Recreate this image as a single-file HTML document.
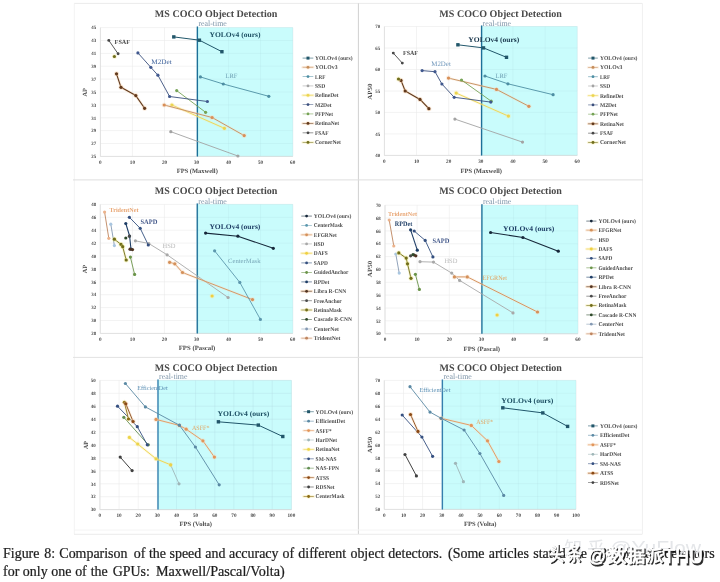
<!DOCTYPE html>
<html><head><meta charset="utf-8"><title>Figure 8</title>
<style>
html,body{margin:0;padding:0;background:#ffffff;}
body{width:720px;height:582px;overflow:hidden;font-family:"Liberation Serif",serif;}
svg{display:block;}
</style></head><body>
<svg width="720" height="582" viewBox="0 0 720 582">
<rect width="720" height="582" fill="#ffffff"/>
<g id="frames" fill="none" filter="url(#softf)">
<path d="M74 3.4H642.4" stroke="#ebebeb" stroke-width="1"/>
<path d="M74.3 3.4V534" stroke="#f3f3f3" stroke-width="1"/>
<path d="M642.4 3.4V534" stroke="#f0f0f0" stroke-width="1"/>
<path d="M358.4 3.4V534" stroke="#d0d0d0" stroke-width="1"/>
<path d="M73 179.9H643" stroke="#dedede" stroke-width="1"/>
<path d="M73 357.4H643" stroke="#e2e2e2" stroke-width="1"/>
<path d="M74 534.3H642.4" stroke="#ececec" stroke-width="1"/>
<path d="M74 530H642.4" stroke="#f4f4f4" stroke-width="1"/>
</g>
<defs><filter id="softf" x="0" y="0" width="720" height="582" filterUnits="userSpaceOnUse"><feGaussianBlur stdDeviation="0.3"/></filter></defs>
<defs><filter id="soft" x="0" y="0" width="100%" height="100%" filterUnits="userSpaceOnUse"><feGaussianBlur stdDeviation="0.38"/></filter></defs>
<g id="charts" filter="url(#soft)" text-rendering="geometricPrecision" font-family="Liberation Serif, serif">
<rect x="197.4" y="27.6" width="95.3" height="128.8" fill="#c9fcfc"/>
<path d="M100.4 27.6V156.4M132.4 27.6V156.4M164.5 27.6V156.4M196.6 27.6V156.4M228.6 27.6V156.4M260.6 27.6V156.4M292.7 27.6V156.4M100.4 156.4H292.7M100.4 143.5H292.7M100.4 130.6H292.7M100.4 117.8H292.7M100.4 104.9H292.7M100.4 92.0H292.7M100.4 79.1H292.7M100.4 66.2H292.7M100.4 53.4H292.7M100.4 40.5H292.7M100.4 27.6H292.7" stroke="#e9e9e9" stroke-width="0.6" fill="none" opacity="0.9"/>
<rect x="197.4" y="27.6" width="95.3" height="128.8" fill="#c9fcfc"/>
<path d="M228.6 27.6V156.4M260.6 27.6V156.4M292.7 27.6V156.4M197.4 156.4H292.7M197.4 143.5H292.7M197.4 130.6H292.7M197.4 117.8H292.7M197.4 104.9H292.7M197.4 92.0H292.7M197.4 79.1H292.7M197.4 66.2H292.7M197.4 53.4H292.7M197.4 40.5H292.7M197.4 27.6H292.7" stroke="#a9d3dc" stroke-width="0.6" fill="none" opacity="0.32"/>
<path d="M100.4 27.6V156.4H292.7" stroke="#d9d9d9" stroke-width="0.7" fill="none"/>
<path d="M197.4 26.6V156.4" stroke="#6fb6d2" stroke-width="1.9" opacity="0.4"/>
<path d="M197.4 26.6V156.4" stroke="#1f6f98" stroke-width="1.2"/>
<text x="100.4" y="164.0" font-size="5.2" fill="#4a4a4a" text-anchor="middle" font-weight="bold" >0</text>
<text x="132.4" y="164.0" font-size="5.2" fill="#4a4a4a" text-anchor="middle" font-weight="bold" >10</text>
<text x="164.5" y="164.0" font-size="5.2" fill="#4a4a4a" text-anchor="middle" font-weight="bold" >20</text>
<text x="196.6" y="164.0" font-size="5.2" fill="#4a4a4a" text-anchor="middle" font-weight="bold" >30</text>
<text x="228.6" y="164.0" font-size="5.2" fill="#4a4a4a" text-anchor="middle" font-weight="bold" >40</text>
<text x="260.6" y="164.0" font-size="5.2" fill="#4a4a4a" text-anchor="middle" font-weight="bold" >50</text>
<text x="292.7" y="164.0" font-size="5.2" fill="#4a4a4a" text-anchor="middle" font-weight="bold" >60</text>
<text x="96.2" y="158.1" font-size="4.9" fill="#4a4a4a" text-anchor="end" font-weight="bold" >25</text>
<text x="96.2" y="145.2" font-size="4.9" fill="#4a4a4a" text-anchor="end" font-weight="bold" >27</text>
<text x="96.2" y="132.3" font-size="4.9" fill="#4a4a4a" text-anchor="end" font-weight="bold" >29</text>
<text x="96.2" y="119.5" font-size="4.9" fill="#4a4a4a" text-anchor="end" font-weight="bold" >31</text>
<text x="96.2" y="106.6" font-size="4.9" fill="#4a4a4a" text-anchor="end" font-weight="bold" >33</text>
<text x="96.2" y="93.7" font-size="4.9" fill="#4a4a4a" text-anchor="end" font-weight="bold" >35</text>
<text x="96.2" y="80.8" font-size="4.9" fill="#4a4a4a" text-anchor="end" font-weight="bold" >37</text>
<text x="96.2" y="67.9" font-size="4.9" fill="#4a4a4a" text-anchor="end" font-weight="bold" >39</text>
<text x="96.2" y="55.1" font-size="4.9" fill="#4a4a4a" text-anchor="end" font-weight="bold" >41</text>
<text x="96.2" y="42.2" font-size="4.9" fill="#4a4a4a" text-anchor="end" font-weight="bold" >43</text>
<text x="96.2" y="29.3" font-size="4.9" fill="#4a4a4a" text-anchor="end" font-weight="bold" >45</text>
<text x="197.3" y="173.0" font-size="6.4" fill="#4c4c4c" text-anchor="middle" font-weight="bold" textLength="41.0" lengthAdjust="spacingAndGlyphs" >FPS (Maxwell)</text>
<text x="87.1" y="92.3" font-size="6.4" fill="#4c4c4c" text-anchor="middle" font-weight="bold" textLength="8.5" lengthAdjust="spacingAndGlyphs" transform="rotate(-90 87.1 92.3)">AP</text>
<text x="216.1" y="17.2" font-size="10.1" fill="#4a4a4a" text-anchor="middle" font-weight="bold" textLength="122.5" lengthAdjust="spacingAndGlyphs" >MS COCO Object Detection</text>
<text x="198.4" y="25.5" font-size="8.2" fill="#7d94a8" text-anchor="start" textLength="28.5" lengthAdjust="spacingAndGlyphs" >real-time</text>
<path d="M170.8 131.7L237.9 156.0" stroke="#a3a3a3" stroke-width="0.9" fill="none" stroke-linejoin="round"/>
<circle cx="170.8" cy="131.7" r="1.6" fill="#a3a3a3"/>
<circle cx="237.9" cy="156.0" r="1.6" fill="#a3a3a3"/>
<path d="M171.9 105.0L224.4 128.3" stroke="#fbe9a0" stroke-width="2.5" fill="none" opacity="0.32" stroke-linecap="round" stroke-linejoin="round"/>
<path d="M171.9 105.0L224.4 128.3" stroke="#ebd550" stroke-width="0.9" fill="none" stroke-linejoin="round"/>
<circle cx="171.9" cy="105.0" r="2.5" fill="#fbe9a0" opacity="0.42"/>
<circle cx="171.9" cy="105.0" r="1.6" fill="#ebd550"/>
<circle cx="224.4" cy="128.3" r="2.5" fill="#fbe9a0" opacity="0.42"/>
<circle cx="224.4" cy="128.3" r="1.6" fill="#ebd550"/>
<path d="M164.2 105.0L212.1 117.5L244.2 135.6" stroke="#f6d9bd" stroke-width="2.5" fill="none" opacity="0.32" stroke-linecap="round" stroke-linejoin="round"/>
<path d="M164.2 105.0L212.1 117.5L244.2 135.6" stroke="#c48c5a" stroke-width="0.9" fill="none" stroke-linejoin="round"/>
<circle cx="164.2" cy="105.0" r="2.5" fill="#f6d9bd" opacity="0.42"/>
<circle cx="164.2" cy="105.0" r="1.6" fill="#d88f58"/>
<circle cx="212.1" cy="117.5" r="2.5" fill="#f6d9bd" opacity="0.42"/>
<circle cx="212.1" cy="117.5" r="1.6" fill="#d88f58"/>
<circle cx="244.2" cy="135.6" r="2.5" fill="#f6d9bd" opacity="0.42"/>
<circle cx="244.2" cy="135.6" r="1.6" fill="#d88f58"/>
<path d="M176.7 90.6L205.6 112.3" stroke="#76a356" stroke-width="0.9" fill="none" stroke-linejoin="round"/>
<circle cx="176.7" cy="90.6" r="1.6" fill="#76a356"/>
<circle cx="205.6" cy="112.3" r="1.6" fill="#76a356"/>
<path d="M137.9 52.9L150.8 67.3L157.9 75.2L169.6 96.5L207.4 101.5" stroke="#3a4f7d" stroke-width="0.9" fill="none" stroke-linejoin="round"/>
<circle cx="137.9" cy="52.9" r="1.6" fill="#41598e"/>
<circle cx="150.8" cy="67.3" r="1.6" fill="#41598e"/>
<circle cx="157.9" cy="75.2" r="1.6" fill="#41598e"/>
<circle cx="169.6" cy="96.5" r="1.6" fill="#41598e"/>
<circle cx="207.4" cy="101.5" r="1.6" fill="#41598e"/>
<path d="M200.4 76.9L223.3 84.0L268.8 96.3" stroke="#4d8ea3" stroke-width="0.9" fill="none" stroke-linejoin="round"/>
<circle cx="200.4" cy="76.9" r="1.6" fill="#4d8ea3"/>
<circle cx="223.3" cy="84.0" r="1.6" fill="#4d8ea3"/>
<circle cx="268.8" cy="96.3" r="1.6" fill="#4d8ea3"/>
<path d="M116.5 73.8L121.0 87.3L135.8 95.6L144.6 108.3" stroke="#f3c9a0" stroke-width="2.7" fill="none" opacity="0.32" stroke-linecap="round" stroke-linejoin="round"/>
<path d="M116.5 73.8L121.0 87.3L135.8 95.6L144.6 108.3" stroke="#60391c" stroke-width="1.1" fill="none" stroke-linejoin="round"/>
<circle cx="116.5" cy="73.8" r="2.5" fill="#f3c9a0" opacity="0.42"/>
<circle cx="116.5" cy="73.8" r="1.6" fill="#60391c"/>
<circle cx="121.0" cy="87.3" r="2.5" fill="#f3c9a0" opacity="0.42"/>
<circle cx="121.0" cy="87.3" r="1.6" fill="#60391c"/>
<circle cx="135.8" cy="95.6" r="2.5" fill="#f3c9a0" opacity="0.42"/>
<circle cx="135.8" cy="95.6" r="1.6" fill="#60391c"/>
<circle cx="144.6" cy="108.3" r="2.5" fill="#f3c9a0" opacity="0.42"/>
<circle cx="144.6" cy="108.3" r="1.6" fill="#60391c"/>
<circle cx="114.4" cy="56.5" r="2.5" fill="#f3e6a0" opacity="0.42"/>
<circle cx="114.4" cy="56.5" r="1.6" fill="#6f6e1e"/>
<path d="M108.8 40.4L118.1 53.8" stroke="#474747" stroke-width="0.9" fill="none" stroke-linejoin="round"/>
<circle cx="108.8" cy="40.4" r="1.45" fill="#474747"/>
<circle cx="118.1" cy="53.8" r="1.45" fill="#474747"/>
<path d="M173.8 36.9L199.4 40.2L221.9 51.7" stroke="#21566a" stroke-width="1.0" fill="none" stroke-linejoin="round"/>
<rect x="172.1" y="35.2" width="3.4" height="3.4" fill="#21566a"/>
<rect x="197.7" y="38.5" width="3.4" height="3.4" fill="#21566a"/>
<rect x="220.2" y="50.0" width="3.4" height="3.4" fill="#21566a"/>
<text x="114.6" y="43.9" font-size="6.3" fill="#4a4a4a" text-anchor="start" font-weight="bold" textLength="15.5" lengthAdjust="spacingAndGlyphs" >FSAF</text>
<text x="151.3" y="63.8" font-size="6.8" fill="#41649c" text-anchor="start" textLength="20.5" lengthAdjust="spacingAndGlyphs" >M2Det</text>
<text x="225.5" y="78.2" font-size="6.5" fill="#6ea0b4" text-anchor="start" textLength="12.0" lengthAdjust="spacingAndGlyphs" >LRF</text>
<text x="209.5" y="36.6" font-size="7.3" fill="#1d4f63" text-anchor="start" font-weight="bold" textLength="51.0" lengthAdjust="spacingAndGlyphs" >YOLOv4 (ours)</text>
<path d="M302.6 58.1H313.3" stroke="#21566a" stroke-width="0.8" opacity="0.7"/>
<rect x="306.5" y="56.6" width="3" height="3" fill="#21566a"/>
<text x="315.0" y="60.0" font-size="5.9" fill="#4d4d4d" text-anchor="start" font-weight="bold" textLength="37.5" lengthAdjust="spacingAndGlyphs" >YOLOv4 (ours)</text>
<path d="M302.6 67.3H313.3" stroke="#f6d9bd" stroke-width="2.4" opacity="0.45" stroke-linecap="round"/>
<circle cx="308.0" cy="67.3" r="2.2" fill="#f6d9bd" opacity="0.45"/>
<path d="M302.6 67.3H313.3" stroke="#c48c5a" stroke-width="0.8" opacity="0.7"/>
<circle cx="308.0" cy="67.3" r="1.4" fill="#c48c5a"/>
<text x="315.0" y="69.2" font-size="5.9" fill="#4d4d4d" text-anchor="start" font-weight="bold" textLength="22.5" lengthAdjust="spacingAndGlyphs" >YOLOv3</text>
<path d="M302.6 76.6H313.3" stroke="#4d8ea3" stroke-width="0.8" opacity="0.7"/>
<circle cx="308.0" cy="76.6" r="1.4" fill="#4d8ea3"/>
<text x="315.0" y="78.5" font-size="5.9" fill="#4d4d4d" text-anchor="start" font-weight="bold" textLength="10.3" lengthAdjust="spacingAndGlyphs" >LRF</text>
<path d="M302.6 85.9H313.3" stroke="#a3a3a3" stroke-width="0.8" opacity="0.7"/>
<circle cx="308.0" cy="85.9" r="1.4" fill="#a3a3a3"/>
<text x="315.0" y="87.8" font-size="5.9" fill="#4d4d4d" text-anchor="start" font-weight="bold" textLength="10.3" lengthAdjust="spacingAndGlyphs" >SSD</text>
<path d="M302.6 95.3H313.3" stroke="#fbe9a0" stroke-width="2.4" opacity="0.45" stroke-linecap="round"/>
<circle cx="308.0" cy="95.3" r="2.2" fill="#fbe9a0" opacity="0.45"/>
<path d="M302.6 95.3H313.3" stroke="#ebd550" stroke-width="0.8" opacity="0.7"/>
<circle cx="308.0" cy="95.3" r="1.4" fill="#ebd550"/>
<text x="315.0" y="97.2" font-size="5.9" fill="#4d4d4d" text-anchor="start" font-weight="bold" textLength="23.5" lengthAdjust="spacingAndGlyphs" >RefineDet</text>
<path d="M302.6 104.6H313.3" stroke="#3a4f7d" stroke-width="0.8" opacity="0.7"/>
<circle cx="308.0" cy="104.6" r="1.4" fill="#3a4f7d"/>
<text x="315.0" y="106.5" font-size="5.9" fill="#4d4d4d" text-anchor="start" font-weight="bold" textLength="16.5" lengthAdjust="spacingAndGlyphs" >M2Det</text>
<path d="M302.6 113.9H313.3" stroke="#76a356" stroke-width="0.8" opacity="0.7"/>
<circle cx="308.0" cy="113.9" r="1.4" fill="#76a356"/>
<text x="315.0" y="115.8" font-size="5.9" fill="#4d4d4d" text-anchor="start" font-weight="bold" textLength="18.0" lengthAdjust="spacingAndGlyphs" >PFPNet</text>
<path d="M302.6 123.4H313.3" stroke="#f3c9a0" stroke-width="2.4" opacity="0.45" stroke-linecap="round"/>
<circle cx="308.0" cy="123.4" r="2.2" fill="#f3c9a0" opacity="0.45"/>
<path d="M302.6 123.4H313.3" stroke="#60391c" stroke-width="0.8" opacity="0.7"/>
<circle cx="308.0" cy="123.4" r="1.4" fill="#60391c"/>
<text x="315.0" y="125.3" font-size="5.9" fill="#4d4d4d" text-anchor="start" font-weight="bold" textLength="24.0" lengthAdjust="spacingAndGlyphs" >RetinaNet</text>
<path d="M302.6 132.8H313.3" stroke="#474747" stroke-width="0.8" opacity="0.7"/>
<circle cx="308.0" cy="132.8" r="1.4" fill="#474747"/>
<text x="315.0" y="134.7" font-size="5.9" fill="#4d4d4d" text-anchor="start" font-weight="bold" textLength="13.5" lengthAdjust="spacingAndGlyphs" >FSAF</text>
<path d="M302.6 142.4H313.3" stroke="#f3e6a0" stroke-width="2.4" opacity="0.45" stroke-linecap="round"/>
<circle cx="308.0" cy="142.4" r="2.2" fill="#f3e6a0" opacity="0.45"/>
<path d="M302.6 142.4H313.3" stroke="#6f6e1e" stroke-width="0.8" opacity="0.7"/>
<circle cx="308.0" cy="142.4" r="1.4" fill="#6f6e1e"/>
<text x="315.0" y="144.3" font-size="5.9" fill="#4d4d4d" text-anchor="start" font-weight="bold" textLength="26.0" lengthAdjust="spacingAndGlyphs" >CornerNet</text>
<rect x="481.6" y="26.5" width="95.6" height="128.9" fill="#c9fcfc"/>
<path d="M384.4 26.5V155.4M416.5 26.5V155.4M448.7 26.5V155.4M480.8 26.5V155.4M512.9 26.5V155.4M545.1 26.5V155.4M577.2 26.5V155.4M384.4 155.4H577.2M384.4 133.9H577.2M384.4 112.4H577.2M384.4 91.0H577.2M384.4 69.5H577.2M384.4 48.0H577.2M384.4 26.5H577.2" stroke="#e9e9e9" stroke-width="0.6" fill="none" opacity="0.9"/>
<rect x="481.6" y="26.5" width="95.6" height="128.9" fill="#c9fcfc"/>
<path d="M512.9 26.5V155.4M545.1 26.5V155.4M577.2 26.5V155.4M481.6 155.4H577.2M481.6 133.9H577.2M481.6 112.4H577.2M481.6 91.0H577.2M481.6 69.5H577.2M481.6 48.0H577.2M481.6 26.5H577.2" stroke="#a9d3dc" stroke-width="0.6" fill="none" opacity="0.32"/>
<path d="M384.4 26.5V155.4H577.2" stroke="#d9d9d9" stroke-width="0.7" fill="none"/>
<path d="M481.6 25.5V155.4" stroke="#6fb6d2" stroke-width="1.9" opacity="0.4"/>
<path d="M481.6 25.5V155.4" stroke="#1f6f98" stroke-width="1.2"/>
<text x="384.4" y="163.0" font-size="5.2" fill="#4a4a4a" text-anchor="middle" font-weight="bold" >0</text>
<text x="416.5" y="163.0" font-size="5.2" fill="#4a4a4a" text-anchor="middle" font-weight="bold" >10</text>
<text x="448.7" y="163.0" font-size="5.2" fill="#4a4a4a" text-anchor="middle" font-weight="bold" >20</text>
<text x="480.8" y="163.0" font-size="5.2" fill="#4a4a4a" text-anchor="middle" font-weight="bold" >30</text>
<text x="512.9" y="163.0" font-size="5.2" fill="#4a4a4a" text-anchor="middle" font-weight="bold" >40</text>
<text x="545.1" y="163.0" font-size="5.2" fill="#4a4a4a" text-anchor="middle" font-weight="bold" >50</text>
<text x="577.2" y="163.0" font-size="5.2" fill="#4a4a4a" text-anchor="middle" font-weight="bold" >60</text>
<text x="380.2" y="157.1" font-size="4.9" fill="#4a4a4a" text-anchor="end" font-weight="bold" >40</text>
<text x="380.2" y="135.6" font-size="4.9" fill="#4a4a4a" text-anchor="end" font-weight="bold" >45</text>
<text x="380.2" y="114.1" font-size="4.9" fill="#4a4a4a" text-anchor="end" font-weight="bold" >50</text>
<text x="380.2" y="92.7" font-size="4.9" fill="#4a4a4a" text-anchor="end" font-weight="bold" >55</text>
<text x="380.2" y="71.2" font-size="4.9" fill="#4a4a4a" text-anchor="end" font-weight="bold" >60</text>
<text x="380.2" y="49.7" font-size="4.9" fill="#4a4a4a" text-anchor="end" font-weight="bold" >65</text>
<text x="380.2" y="28.2" font-size="4.9" fill="#4a4a4a" text-anchor="end" font-weight="bold" >70</text>
<text x="481.2" y="173.0" font-size="6.4" fill="#4c4c4c" text-anchor="middle" font-weight="bold" textLength="41.5" lengthAdjust="spacingAndGlyphs" >FPS (Maxwell)</text>
<text x="371.6" y="91.6" font-size="6.4" fill="#4c4c4c" text-anchor="middle" font-weight="bold" textLength="16.3" lengthAdjust="spacingAndGlyphs" transform="rotate(-90 371.6 91.6)">AP50</text>
<text x="500.6" y="17.2" font-size="10.1" fill="#4a4a4a" text-anchor="middle" font-weight="bold" textLength="122.5" lengthAdjust="spacingAndGlyphs" >MS COCO Object Detection</text>
<text x="482.6" y="25.5" font-size="8.2" fill="#7d94a8" text-anchor="start" textLength="28.5" lengthAdjust="spacingAndGlyphs" >real-time</text>
<path d="M454.9 119.1L522.5 142.1" stroke="#a3a3a3" stroke-width="0.9" fill="none" stroke-linejoin="round"/>
<circle cx="454.9" cy="119.1" r="1.6" fill="#a3a3a3"/>
<circle cx="522.5" cy="142.1" r="1.6" fill="#a3a3a3"/>
<path d="M456.2 93.1L508.4 116.1" stroke="#fbe9a0" stroke-width="2.5" fill="none" opacity="0.32" stroke-linecap="round" stroke-linejoin="round"/>
<path d="M456.2 93.1L508.4 116.1" stroke="#ebd550" stroke-width="0.9" fill="none" stroke-linejoin="round"/>
<circle cx="456.2" cy="93.1" r="2.5" fill="#fbe9a0" opacity="0.42"/>
<circle cx="456.2" cy="93.1" r="1.6" fill="#ebd550"/>
<circle cx="508.4" cy="116.1" r="2.5" fill="#fbe9a0" opacity="0.42"/>
<circle cx="508.4" cy="116.1" r="1.6" fill="#ebd550"/>
<path d="M448.5 78.1L496.5 89.4L528.9 106.3" stroke="#f6d9bd" stroke-width="2.5" fill="none" opacity="0.32" stroke-linecap="round" stroke-linejoin="round"/>
<path d="M448.5 78.1L496.5 89.4L528.9 106.3" stroke="#c48c5a" stroke-width="0.9" fill="none" stroke-linejoin="round"/>
<circle cx="448.5" cy="78.1" r="2.5" fill="#f6d9bd" opacity="0.42"/>
<circle cx="448.5" cy="78.1" r="1.6" fill="#d88f58"/>
<circle cx="496.5" cy="89.4" r="2.5" fill="#f6d9bd" opacity="0.42"/>
<circle cx="496.5" cy="89.4" r="1.6" fill="#d88f58"/>
<circle cx="528.9" cy="106.3" r="2.5" fill="#f6d9bd" opacity="0.42"/>
<circle cx="528.9" cy="106.3" r="1.6" fill="#d88f58"/>
<path d="M461.5 80.0L491.2 101.2" stroke="#76a356" stroke-width="0.9" fill="none" stroke-linejoin="round"/>
<circle cx="461.5" cy="80.0" r="1.6" fill="#76a356"/>
<circle cx="491.2" cy="101.2" r="1.6" fill="#76a356"/>
<path d="M422.1 70.6L435.0 71.7L441.9 84.0L454.2 97.3L490.8 102.1" stroke="#3a4f7d" stroke-width="0.9" fill="none" stroke-linejoin="round"/>
<circle cx="422.1" cy="70.6" r="1.6" fill="#41598e"/>
<circle cx="435.0" cy="71.7" r="1.6" fill="#41598e"/>
<circle cx="441.9" cy="84.0" r="1.6" fill="#41598e"/>
<circle cx="454.2" cy="97.3" r="1.6" fill="#41598e"/>
<circle cx="490.8" cy="102.1" r="1.6" fill="#41598e"/>
<path d="M485.0 76.0L507.9 83.8L553.1 94.7" stroke="#4d8ea3" stroke-width="0.9" fill="none" stroke-linejoin="round"/>
<circle cx="485.0" cy="76.0" r="1.6" fill="#4d8ea3"/>
<circle cx="507.9" cy="83.8" r="1.6" fill="#4d8ea3"/>
<circle cx="553.1" cy="94.7" r="1.6" fill="#4d8ea3"/>
<path d="M401.0 80.4L405.2 91.0L420.0 99.4L428.9 108.7" stroke="#f3c9a0" stroke-width="2.7" fill="none" opacity="0.32" stroke-linecap="round" stroke-linejoin="round"/>
<path d="M401.0 80.4L405.2 91.0L420.0 99.4L428.9 108.7" stroke="#60391c" stroke-width="1.1" fill="none" stroke-linejoin="round"/>
<circle cx="401.0" cy="80.4" r="2.5" fill="#f3c9a0" opacity="0.42"/>
<circle cx="401.0" cy="80.4" r="1.6" fill="#60391c"/>
<circle cx="405.2" cy="91.0" r="2.5" fill="#f3c9a0" opacity="0.42"/>
<circle cx="405.2" cy="91.0" r="1.6" fill="#60391c"/>
<circle cx="420.0" cy="99.4" r="2.5" fill="#f3c9a0" opacity="0.42"/>
<circle cx="420.0" cy="99.4" r="1.6" fill="#60391c"/>
<circle cx="428.9" cy="108.7" r="2.5" fill="#f3c9a0" opacity="0.42"/>
<circle cx="428.9" cy="108.7" r="1.6" fill="#60391c"/>
<circle cx="398.5" cy="79.0" r="2.5" fill="#f3e6a0" opacity="0.42"/>
<circle cx="398.5" cy="79.0" r="1.6" fill="#6f6e1e"/>
<path d="M393.3 53.1L402.3 63.1" stroke="#474747" stroke-width="0.9" fill="none" stroke-linejoin="round"/>
<circle cx="393.3" cy="53.1" r="1.45" fill="#474747"/>
<circle cx="402.3" cy="63.1" r="1.45" fill="#474747"/>
<path d="M457.9 44.8L483.5 47.9L506.5 57.3" stroke="#21566a" stroke-width="1.0" fill="none" stroke-linejoin="round"/>
<rect x="456.2" y="43.1" width="3.4" height="3.4" fill="#21566a"/>
<rect x="481.8" y="46.2" width="3.4" height="3.4" fill="#21566a"/>
<rect x="504.8" y="55.6" width="3.4" height="3.4" fill="#21566a"/>
<text x="403.0" y="54.8" font-size="6.3" fill="#4a4a4a" text-anchor="start" font-weight="bold" textLength="15.0" lengthAdjust="spacingAndGlyphs" >FSAF</text>
<text x="431.3" y="66.4" font-size="6.8" fill="#6f96ba" text-anchor="start" textLength="19.5" lengthAdjust="spacingAndGlyphs" >M2Det</text>
<text x="495.5" y="77.5" font-size="6.5" fill="#6ea0b4" text-anchor="start" textLength="12.0" lengthAdjust="spacingAndGlyphs" >LRF</text>
<text x="468.3" y="42.2" font-size="7.3" fill="#17344a" text-anchor="start" font-weight="bold" textLength="51.0" lengthAdjust="spacingAndGlyphs" >YOLOv4 (ours)</text>
<path d="M588.1 58.1H597.8" stroke="#21566a" stroke-width="0.8" opacity="0.7"/>
<rect x="591.5" y="56.6" width="3" height="3" fill="#21566a"/>
<text x="599.9" y="60.0" font-size="5.9" fill="#4d4d4d" text-anchor="start" font-weight="bold" textLength="37.5" lengthAdjust="spacingAndGlyphs" >YOLOv4 (ours)</text>
<path d="M588.1 67.4H597.8" stroke="#f6d9bd" stroke-width="2.4" opacity="0.45" stroke-linecap="round"/>
<circle cx="593.0" cy="67.4" r="2.2" fill="#f6d9bd" opacity="0.45"/>
<path d="M588.1 67.4H597.8" stroke="#c48c5a" stroke-width="0.8" opacity="0.7"/>
<circle cx="593.0" cy="67.4" r="1.4" fill="#c48c5a"/>
<text x="599.9" y="69.3" font-size="5.9" fill="#4d4d4d" text-anchor="start" font-weight="bold" textLength="22.5" lengthAdjust="spacingAndGlyphs" >YOLOv3</text>
<path d="M588.1 76.7H597.8" stroke="#4d8ea3" stroke-width="0.8" opacity="0.7"/>
<circle cx="593.0" cy="76.7" r="1.4" fill="#4d8ea3"/>
<text x="599.9" y="78.6" font-size="5.9" fill="#4d4d4d" text-anchor="start" font-weight="bold" textLength="10.3" lengthAdjust="spacingAndGlyphs" >LRF</text>
<path d="M588.1 86.0H597.8" stroke="#a3a3a3" stroke-width="0.8" opacity="0.7"/>
<circle cx="593.0" cy="86.0" r="1.4" fill="#a3a3a3"/>
<text x="599.9" y="87.9" font-size="5.9" fill="#4d4d4d" text-anchor="start" font-weight="bold" textLength="10.3" lengthAdjust="spacingAndGlyphs" >SSD</text>
<path d="M588.1 95.6H597.8" stroke="#fbe9a0" stroke-width="2.4" opacity="0.45" stroke-linecap="round"/>
<circle cx="593.0" cy="95.6" r="2.2" fill="#fbe9a0" opacity="0.45"/>
<path d="M588.1 95.6H597.8" stroke="#ebd550" stroke-width="0.8" opacity="0.7"/>
<circle cx="593.0" cy="95.6" r="1.4" fill="#ebd550"/>
<text x="599.9" y="97.5" font-size="5.9" fill="#4d4d4d" text-anchor="start" font-weight="bold" textLength="23.5" lengthAdjust="spacingAndGlyphs" >RefineDet</text>
<path d="M588.1 104.9H597.8" stroke="#3a4f7d" stroke-width="0.8" opacity="0.7"/>
<circle cx="593.0" cy="104.9" r="1.4" fill="#3a4f7d"/>
<text x="599.9" y="106.8" font-size="5.9" fill="#4d4d4d" text-anchor="start" font-weight="bold" textLength="16.5" lengthAdjust="spacingAndGlyphs" >M2Det</text>
<path d="M588.1 114.2H597.8" stroke="#76a356" stroke-width="0.8" opacity="0.7"/>
<circle cx="593.0" cy="114.2" r="1.4" fill="#76a356"/>
<text x="599.9" y="116.1" font-size="5.9" fill="#4d4d4d" text-anchor="start" font-weight="bold" textLength="18.0" lengthAdjust="spacingAndGlyphs" >PFPNet</text>
<path d="M588.1 123.8H597.8" stroke="#f3c9a0" stroke-width="2.4" opacity="0.45" stroke-linecap="round"/>
<circle cx="593.0" cy="123.8" r="2.2" fill="#f3c9a0" opacity="0.45"/>
<path d="M588.1 123.8H597.8" stroke="#60391c" stroke-width="0.8" opacity="0.7"/>
<circle cx="593.0" cy="123.8" r="1.4" fill="#60391c"/>
<text x="599.9" y="125.7" font-size="5.9" fill="#4d4d4d" text-anchor="start" font-weight="bold" textLength="24.0" lengthAdjust="spacingAndGlyphs" >RetinaNet</text>
<path d="M588.1 133.2H597.8" stroke="#474747" stroke-width="0.8" opacity="0.7"/>
<circle cx="593.0" cy="133.2" r="1.4" fill="#474747"/>
<text x="599.9" y="135.1" font-size="5.9" fill="#4d4d4d" text-anchor="start" font-weight="bold" textLength="13.5" lengthAdjust="spacingAndGlyphs" >FSAF</text>
<path d="M588.1 142.5H597.8" stroke="#f3e6a0" stroke-width="2.4" opacity="0.45" stroke-linecap="round"/>
<circle cx="593.0" cy="142.5" r="2.2" fill="#f3e6a0" opacity="0.45"/>
<path d="M588.1 142.5H597.8" stroke="#6f6e1e" stroke-width="0.8" opacity="0.7"/>
<circle cx="593.0" cy="142.5" r="1.4" fill="#6f6e1e"/>
<text x="599.9" y="144.4" font-size="5.9" fill="#4d4d4d" text-anchor="start" font-weight="bold" textLength="26.0" lengthAdjust="spacingAndGlyphs" >CornerNet</text>
<rect x="197.3" y="204.4" width="95.4" height="129.0" fill="#c9fcfc"/>
<path d="M100.3 204.4V333.4M132.4 204.4V333.4M164.4 204.4V333.4M196.5 204.4V333.4M228.6 204.4V333.4M260.6 204.4V333.4M292.7 204.4V333.4M100.3 333.4H292.7M100.3 320.5H292.7M100.3 307.6H292.7M100.3 294.7H292.7M100.3 281.8H292.7M100.3 268.9H292.7M100.3 256.0H292.7M100.3 243.1H292.7M100.3 230.2H292.7M100.3 217.3H292.7M100.3 204.4H292.7" stroke="#e9e9e9" stroke-width="0.6" fill="none" opacity="0.9"/>
<rect x="197.3" y="204.4" width="95.4" height="129.0" fill="#c9fcfc"/>
<path d="M228.6 204.4V333.4M260.6 204.4V333.4M292.7 204.4V333.4M197.3 333.4H292.7M197.3 320.5H292.7M197.3 307.6H292.7M197.3 294.7H292.7M197.3 281.8H292.7M197.3 268.9H292.7M197.3 256.0H292.7M197.3 243.1H292.7M197.3 230.2H292.7M197.3 217.3H292.7M197.3 204.4H292.7" stroke="#a9d3dc" stroke-width="0.6" fill="none" opacity="0.32"/>
<path d="M100.3 204.4V333.4H292.7" stroke="#d9d9d9" stroke-width="0.7" fill="none"/>
<path d="M197.3 203.4V333.4" stroke="#6fb6d2" stroke-width="1.9" opacity="0.4"/>
<path d="M197.3 203.4V333.4" stroke="#1f6f98" stroke-width="1.2"/>
<text x="100.3" y="341.0" font-size="5.2" fill="#4a4a4a" text-anchor="middle" font-weight="bold" >0</text>
<text x="132.4" y="341.0" font-size="5.2" fill="#4a4a4a" text-anchor="middle" font-weight="bold" >10</text>
<text x="164.4" y="341.0" font-size="5.2" fill="#4a4a4a" text-anchor="middle" font-weight="bold" >20</text>
<text x="196.5" y="341.0" font-size="5.2" fill="#4a4a4a" text-anchor="middle" font-weight="bold" >30</text>
<text x="228.6" y="341.0" font-size="5.2" fill="#4a4a4a" text-anchor="middle" font-weight="bold" >40</text>
<text x="260.6" y="341.0" font-size="5.2" fill="#4a4a4a" text-anchor="middle" font-weight="bold" >50</text>
<text x="292.7" y="341.0" font-size="5.2" fill="#4a4a4a" text-anchor="middle" font-weight="bold" >60</text>
<text x="96.1" y="335.1" font-size="4.9" fill="#4a4a4a" text-anchor="end" font-weight="bold" >28</text>
<text x="96.1" y="322.2" font-size="4.9" fill="#4a4a4a" text-anchor="end" font-weight="bold" >30</text>
<text x="96.1" y="309.3" font-size="4.9" fill="#4a4a4a" text-anchor="end" font-weight="bold" >32</text>
<text x="96.1" y="296.4" font-size="4.9" fill="#4a4a4a" text-anchor="end" font-weight="bold" >34</text>
<text x="96.1" y="283.5" font-size="4.9" fill="#4a4a4a" text-anchor="end" font-weight="bold" >36</text>
<text x="96.1" y="270.6" font-size="4.9" fill="#4a4a4a" text-anchor="end" font-weight="bold" >38</text>
<text x="96.1" y="257.7" font-size="4.9" fill="#4a4a4a" text-anchor="end" font-weight="bold" >40</text>
<text x="96.1" y="244.8" font-size="4.9" fill="#4a4a4a" text-anchor="end" font-weight="bold" >42</text>
<text x="96.1" y="231.9" font-size="4.9" fill="#4a4a4a" text-anchor="end" font-weight="bold" >44</text>
<text x="96.1" y="219.0" font-size="4.9" fill="#4a4a4a" text-anchor="end" font-weight="bold" >46</text>
<text x="96.1" y="206.1" font-size="4.9" fill="#4a4a4a" text-anchor="end" font-weight="bold" >48</text>
<text x="197.0" y="350.4" font-size="6.4" fill="#4c4c4c" text-anchor="middle" font-weight="bold" textLength="36.5" lengthAdjust="spacingAndGlyphs" >FPS (Pascal)</text>
<text x="87.1" y="269.0" font-size="6.4" fill="#4c4c4c" text-anchor="middle" font-weight="bold" textLength="8.5" lengthAdjust="spacingAndGlyphs" transform="rotate(-90 87.1 269.0)">AP</text>
<text x="216.1" y="194.3" font-size="10.1" fill="#4a4a4a" text-anchor="middle" font-weight="bold" textLength="122.5" lengthAdjust="spacingAndGlyphs" >MS COCO Object Detection</text>
<text x="198.3" y="204.0" font-size="8.2" fill="#7d94a8" text-anchor="start" textLength="28.5" lengthAdjust="spacingAndGlyphs" >real-time</text>
<path d="M135.4 240.8L148.8 243.5L167.1 254.8L228.1 297.5" stroke="#a8a8a8" stroke-width="0.9" fill="none" stroke-linejoin="round"/>
<circle cx="135.4" cy="240.8" r="1.6" fill="#a8a8a8"/>
<circle cx="148.8" cy="243.5" r="1.6" fill="#a8a8a8"/>
<circle cx="167.1" cy="254.8" r="1.6" fill="#a8a8a8"/>
<circle cx="228.1" cy="297.5" r="1.6" fill="#a8a8a8"/>
<path d="M169.6 262.3L174.8 263.8L182.5 272.5L252.5 299.6" stroke="#f6d9bd" stroke-width="2.5" fill="none" opacity="0.32" stroke-linecap="round" stroke-linejoin="round"/>
<path d="M169.6 262.3L174.8 263.8L182.5 272.5L252.5 299.6" stroke="#d4905a" stroke-width="0.9" fill="none" stroke-linejoin="round"/>
<circle cx="169.6" cy="262.3" r="2.5" fill="#f6d9bd" opacity="0.42"/>
<circle cx="169.6" cy="262.3" r="1.6" fill="#d4905a"/>
<circle cx="174.8" cy="263.8" r="2.5" fill="#f6d9bd" opacity="0.42"/>
<circle cx="174.8" cy="263.8" r="1.6" fill="#d4905a"/>
<circle cx="182.5" cy="272.5" r="2.5" fill="#f6d9bd" opacity="0.42"/>
<circle cx="182.5" cy="272.5" r="1.6" fill="#d4905a"/>
<circle cx="252.5" cy="299.6" r="2.5" fill="#f6d9bd" opacity="0.42"/>
<circle cx="252.5" cy="299.6" r="1.6" fill="#d4905a"/>
<circle cx="212.1" cy="296.0" r="2.5" fill="#fbe9a0" opacity="0.42"/>
<circle cx="212.1" cy="296.0" r="1.6" fill="#efd040"/>
<path d="M214.6 250.8L239.8 282.4L260.4 319.4" stroke="#5b97ad" stroke-width="0.9" fill="none" stroke-linejoin="round"/>
<circle cx="214.6" cy="250.8" r="1.6" fill="#5b97ad"/>
<circle cx="239.8" cy="282.4" r="1.6" fill="#5b97ad"/>
<circle cx="260.4" cy="319.4" r="1.6" fill="#5b97ad"/>
<path d="M104.6 212.1L108.8 238.3" stroke="#bd845e" stroke-width="0.9" fill="none" stroke-linejoin="round"/>
<circle cx="104.6" cy="212.1" r="1.6" fill="#ecb38c"/>
<circle cx="108.8" cy="238.3" r="1.6" fill="#ecb38c"/>
<path d="M110.8 224.2L114.4 245.6" stroke="#8499b3" stroke-width="0.9" fill="none" stroke-linejoin="round"/>
<circle cx="110.8" cy="224.2" r="1.6" fill="#a9c6e0"/>
<circle cx="114.4" cy="245.6" r="1.6" fill="#a9c6e0"/>
<path d="M114.4 239.2L121.0 244.4L122.7 246.7L126.2 260.0" stroke="#ece680" stroke-width="2.5" fill="none" opacity="0.32" stroke-linecap="round" stroke-linejoin="round"/>
<path d="M114.4 239.2L121.0 244.4L122.7 246.7L126.2 260.0" stroke="#6f6c1c" stroke-width="0.9" fill="none" stroke-linejoin="round"/>
<circle cx="114.4" cy="239.2" r="2.5" fill="#ece680" opacity="0.42"/>
<circle cx="114.4" cy="239.2" r="1.6" fill="#6f6c1c"/>
<circle cx="121.0" cy="244.4" r="2.5" fill="#ece680" opacity="0.42"/>
<circle cx="121.0" cy="244.4" r="1.6" fill="#6f6c1c"/>
<circle cx="122.7" cy="246.7" r="2.5" fill="#ece680" opacity="0.42"/>
<circle cx="122.7" cy="246.7" r="1.6" fill="#6f6c1c"/>
<circle cx="126.2" cy="260.0" r="2.5" fill="#ece680" opacity="0.42"/>
<circle cx="126.2" cy="260.0" r="1.6" fill="#6f6c1c"/>
<path d="M130.4 257.1L134.6 274.4" stroke="#6b9448" stroke-width="0.9" fill="none" stroke-linejoin="round"/>
<circle cx="130.4" cy="257.1" r="1.6" fill="#6b9448"/>
<circle cx="134.6" cy="274.4" r="1.6" fill="#6b9448"/>
<path d="M129.4 217.3L140.2 228.3L148.3 245.0" stroke="#34507f" stroke-width="0.9" fill="none" stroke-linejoin="round"/>
<circle cx="129.4" cy="217.3" r="1.6" fill="#34507f"/>
<circle cx="140.2" cy="228.3" r="1.6" fill="#34507f"/>
<circle cx="148.3" cy="245.0" r="1.6" fill="#34507f"/>
<path d="M125.8 223.5L129.6 236.0L131.0 249.2" stroke="#1f3e66" stroke-width="1.1" fill="none" stroke-linejoin="round"/>
<circle cx="125.8" cy="223.5" r="1.6" fill="#1f3e66"/>
<circle cx="129.6" cy="236.0" r="1.6" fill="#1f3e66"/>
<circle cx="131.0" cy="249.2" r="1.6" fill="#1f3e66"/>
<path d="M130.0 249.2L132.5 249.6" stroke="#4f3220" stroke-width="0.9" fill="none" stroke-linejoin="round"/>
<circle cx="130.0" cy="249.2" r="1.6" fill="#4f3220"/>
<circle cx="132.5" cy="249.6" r="1.6" fill="#4f3220"/>
<circle cx="125.8" cy="238.0" r="1.6" fill="#2f4a2a"/>
<circle cx="129.4" cy="236.2" r="1.6" fill="#4a4a4a"/>
<path d="M205.6 233.1L237.9 236.2L273.3 248.3" stroke="#17283a" stroke-width="1.1" fill="none" stroke-linejoin="round"/>
<circle cx="205.6" cy="233.1" r="1.6" fill="#17283a"/>
<circle cx="237.9" cy="236.2" r="1.6" fill="#17283a"/>
<circle cx="273.3" cy="248.3" r="1.6" fill="#17283a"/>
<text x="109.5" y="212.0" font-size="6.3" fill="#e9a877" text-anchor="start" font-weight="bold" textLength="29.0" lengthAdjust="spacingAndGlyphs" >TridentNet</text>
<text x="140.5" y="223.5" font-size="6.8" fill="#44598a" text-anchor="start" font-weight="bold" textLength="17.0" lengthAdjust="spacingAndGlyphs" >SAPD</text>
<text x="162.5" y="247.5" font-size="6.5" fill="#b9b9b9" text-anchor="start" textLength="13.0" lengthAdjust="spacingAndGlyphs" >HSD</text>
<text x="228.0" y="262.8" font-size="6.5" fill="#78a7b8" text-anchor="start" textLength="32.5" lengthAdjust="spacingAndGlyphs" >CenterMask</text>
<text x="209.4" y="229.0" font-size="7.3" fill="#1f3f66" text-anchor="start" font-weight="bold" textLength="51.0" lengthAdjust="spacingAndGlyphs" >YOLOv4 (ours)</text>
<path d="M301.3 216.1H311.9" stroke="#17283a" stroke-width="0.8" opacity="0.7"/>
<circle cx="306.6" cy="216.1" r="1.4" fill="#17283a"/>
<text x="313.8" y="218.0" font-size="5.9" fill="#4d4d4d" text-anchor="start" font-weight="bold" textLength="37.5" lengthAdjust="spacingAndGlyphs" >YOLOv4 (ours)</text>
<path d="M301.3 225.4H311.9" stroke="#5b97ad" stroke-width="0.8" opacity="0.7"/>
<circle cx="306.6" cy="225.4" r="1.4" fill="#5b97ad"/>
<text x="313.8" y="227.3" font-size="5.9" fill="#4d4d4d" text-anchor="start" font-weight="bold" textLength="29.0" lengthAdjust="spacingAndGlyphs" >CenterMask</text>
<path d="M301.3 234.8H311.9" stroke="#f6d9bd" stroke-width="2.4" opacity="0.45" stroke-linecap="round"/>
<circle cx="306.6" cy="234.8" r="2.2" fill="#f6d9bd" opacity="0.45"/>
<path d="M301.3 234.8H311.9" stroke="#d4905a" stroke-width="0.8" opacity="0.7"/>
<circle cx="306.6" cy="234.8" r="1.4" fill="#d4905a"/>
<text x="313.8" y="236.7" font-size="5.9" fill="#4d4d4d" text-anchor="start" font-weight="bold" textLength="23.0" lengthAdjust="spacingAndGlyphs" >EFGRNet</text>
<path d="M301.3 243.9H311.9" stroke="#a8a8a8" stroke-width="0.8" opacity="0.7"/>
<circle cx="306.6" cy="243.9" r="1.4" fill="#a8a8a8"/>
<text x="313.8" y="245.8" font-size="5.9" fill="#4d4d4d" text-anchor="start" font-weight="bold" textLength="10.5" lengthAdjust="spacingAndGlyphs" >HSD</text>
<path d="M301.3 253.3H311.9" stroke="#fbe9a0" stroke-width="2.4" opacity="0.45" stroke-linecap="round"/>
<circle cx="306.6" cy="253.3" r="2.2" fill="#fbe9a0" opacity="0.45"/>
<path d="M301.3 253.3H311.9" stroke="#efd040" stroke-width="0.8" opacity="0.7"/>
<circle cx="306.6" cy="253.3" r="1.4" fill="#efd040"/>
<text x="313.8" y="255.2" font-size="5.9" fill="#4d4d4d" text-anchor="start" font-weight="bold" textLength="14.0" lengthAdjust="spacingAndGlyphs" >DAFS</text>
<path d="M301.3 262.9H311.9" stroke="#34507f" stroke-width="0.8" opacity="0.7"/>
<circle cx="306.6" cy="262.9" r="1.4" fill="#34507f"/>
<text x="313.8" y="264.8" font-size="5.9" fill="#4d4d4d" text-anchor="start" font-weight="bold" textLength="14.0" lengthAdjust="spacingAndGlyphs" >SAPD</text>
<path d="M301.3 272.5H311.9" stroke="#6b9448" stroke-width="0.8" opacity="0.7"/>
<circle cx="306.6" cy="272.5" r="1.4" fill="#6b9448"/>
<text x="313.8" y="274.4" font-size="5.9" fill="#4d4d4d" text-anchor="start" font-weight="bold" textLength="34.5" lengthAdjust="spacingAndGlyphs" >GuidedAnchor</text>
<path d="M301.3 281.9H311.9" stroke="#1f3e66" stroke-width="0.8" opacity="0.7"/>
<circle cx="306.6" cy="281.9" r="1.4" fill="#1f3e66"/>
<text x="313.8" y="283.8" font-size="5.9" fill="#4d4d4d" text-anchor="start" font-weight="bold" textLength="15.5" lengthAdjust="spacingAndGlyphs" >RPDet</text>
<path d="M301.3 291.3H311.9" stroke="#f3c9a0" stroke-width="2.4" opacity="0.45" stroke-linecap="round"/>
<circle cx="306.6" cy="291.3" r="2.2" fill="#f3c9a0" opacity="0.45"/>
<path d="M301.3 291.3H311.9" stroke="#4f3220" stroke-width="0.8" opacity="0.7"/>
<circle cx="306.6" cy="291.3" r="1.4" fill="#4f3220"/>
<text x="313.8" y="293.2" font-size="5.9" fill="#4d4d4d" text-anchor="start" font-weight="bold" textLength="32.5" lengthAdjust="spacingAndGlyphs" >Libra R-CNN</text>
<path d="M301.3 300.7H311.9" stroke="#4a4a4a" stroke-width="0.8" opacity="0.7"/>
<circle cx="306.6" cy="300.7" r="1.4" fill="#4a4a4a"/>
<text x="313.8" y="302.6" font-size="5.9" fill="#4d4d4d" text-anchor="start" font-weight="bold" textLength="28.0" lengthAdjust="spacingAndGlyphs" >FreeAnchor</text>
<path d="M301.3 310.0H311.9" stroke="#f3e6a0" stroke-width="2.4" opacity="0.45" stroke-linecap="round"/>
<circle cx="306.6" cy="310.0" r="2.2" fill="#f3e6a0" opacity="0.45"/>
<path d="M301.3 310.0H311.9" stroke="#6f6c1c" stroke-width="0.8" opacity="0.7"/>
<circle cx="306.6" cy="310.0" r="1.4" fill="#6f6c1c"/>
<text x="313.8" y="311.9" font-size="5.9" fill="#4d4d4d" text-anchor="start" font-weight="bold" textLength="28.0" lengthAdjust="spacingAndGlyphs" >RetinaMask</text>
<path d="M301.3 319.4H311.9" stroke="#2f4a2a" stroke-width="0.8" opacity="0.7"/>
<circle cx="306.6" cy="319.4" r="1.4" fill="#2f4a2a"/>
<text x="313.8" y="321.3" font-size="5.9" fill="#4d4d4d" text-anchor="start" font-weight="bold" textLength="38.0" lengthAdjust="spacingAndGlyphs" >Cascade R-CNN</text>
<path d="M301.3 329.0H311.9" stroke="#8499b3" stroke-width="0.8" opacity="0.7"/>
<circle cx="306.6" cy="329.0" r="1.4" fill="#8499b3"/>
<text x="313.8" y="330.9" font-size="5.9" fill="#4d4d4d" text-anchor="start" font-weight="bold" textLength="25.0" lengthAdjust="spacingAndGlyphs" >CenterNet</text>
<path d="M301.3 338.2H311.9" stroke="#fae3d0" stroke-width="2.4" opacity="0.45" stroke-linecap="round"/>
<circle cx="306.6" cy="338.2" r="2.2" fill="#fae3d0" opacity="0.45"/>
<path d="M301.3 338.2H311.9" stroke="#bd845e" stroke-width="0.8" opacity="0.7"/>
<circle cx="306.6" cy="338.2" r="1.4" fill="#bd845e"/>
<text x="313.8" y="340.1" font-size="5.9" fill="#4d4d4d" text-anchor="start" font-weight="bold" textLength="26.5" lengthAdjust="spacingAndGlyphs" >TridentNet</text>
<rect x="481.9" y="205.2" width="96.0" height="128.5" fill="#c9fcfc"/>
<path d="M385.0 205.2V333.7M417.1 205.2V333.7M449.3 205.2V333.7M481.4 205.2V333.7M513.6 205.2V333.7M545.8 205.2V333.7M577.9 205.2V333.7M385.0 333.7H577.9M385.0 320.8H577.9M385.0 308.0H577.9M385.0 295.1H577.9M385.0 282.3H577.9M385.0 269.4H577.9M385.0 256.6H577.9M385.0 243.8H577.9M385.0 230.9H577.9M385.0 218.0H577.9M385.0 205.2H577.9" stroke="#e9e9e9" stroke-width="0.6" fill="none" opacity="0.9"/>
<rect x="481.9" y="205.2" width="96.0" height="128.5" fill="#c9fcfc"/>
<path d="M513.6 205.2V333.7M545.8 205.2V333.7M577.9 205.2V333.7M481.9 333.7H577.9M481.9 320.8H577.9M481.9 308.0H577.9M481.9 295.1H577.9M481.9 282.3H577.9M481.9 269.4H577.9M481.9 256.6H577.9M481.9 243.8H577.9M481.9 230.9H577.9M481.9 218.0H577.9M481.9 205.2H577.9" stroke="#a9d3dc" stroke-width="0.6" fill="none" opacity="0.32"/>
<path d="M385.0 205.2V333.7H577.9" stroke="#d9d9d9" stroke-width="0.7" fill="none"/>
<path d="M481.9 204.2V333.7" stroke="#6fb6d2" stroke-width="1.9" opacity="0.4"/>
<path d="M481.9 204.2V333.7" stroke="#1f6f98" stroke-width="1.2"/>
<text x="385.0" y="341.3" font-size="5.2" fill="#4a4a4a" text-anchor="middle" font-weight="bold" >0</text>
<text x="417.1" y="341.3" font-size="5.2" fill="#4a4a4a" text-anchor="middle" font-weight="bold" >10</text>
<text x="449.3" y="341.3" font-size="5.2" fill="#4a4a4a" text-anchor="middle" font-weight="bold" >20</text>
<text x="481.4" y="341.3" font-size="5.2" fill="#4a4a4a" text-anchor="middle" font-weight="bold" >30</text>
<text x="513.6" y="341.3" font-size="5.2" fill="#4a4a4a" text-anchor="middle" font-weight="bold" >40</text>
<text x="545.8" y="341.3" font-size="5.2" fill="#4a4a4a" text-anchor="middle" font-weight="bold" >50</text>
<text x="577.9" y="341.3" font-size="5.2" fill="#4a4a4a" text-anchor="middle" font-weight="bold" >60</text>
<text x="380.8" y="335.4" font-size="4.9" fill="#4a4a4a" text-anchor="end" font-weight="bold" >50</text>
<text x="380.8" y="322.5" font-size="4.9" fill="#4a4a4a" text-anchor="end" font-weight="bold" >52</text>
<text x="380.8" y="309.7" font-size="4.9" fill="#4a4a4a" text-anchor="end" font-weight="bold" >54</text>
<text x="380.8" y="296.8" font-size="4.9" fill="#4a4a4a" text-anchor="end" font-weight="bold" >56</text>
<text x="380.8" y="284.0" font-size="4.9" fill="#4a4a4a" text-anchor="end" font-weight="bold" >58</text>
<text x="380.8" y="271.1" font-size="4.9" fill="#4a4a4a" text-anchor="end" font-weight="bold" >60</text>
<text x="380.8" y="258.3" font-size="4.9" fill="#4a4a4a" text-anchor="end" font-weight="bold" >62</text>
<text x="380.8" y="245.4" font-size="4.9" fill="#4a4a4a" text-anchor="end" font-weight="bold" >64</text>
<text x="380.8" y="232.6" font-size="4.9" fill="#4a4a4a" text-anchor="end" font-weight="bold" >66</text>
<text x="380.8" y="219.7" font-size="4.9" fill="#4a4a4a" text-anchor="end" font-weight="bold" >68</text>
<text x="380.8" y="206.9" font-size="4.9" fill="#4a4a4a" text-anchor="end" font-weight="bold" >70</text>
<text x="481.8" y="350.6" font-size="6.4" fill="#4c4c4c" text-anchor="middle" font-weight="bold" textLength="36.5" lengthAdjust="spacingAndGlyphs" >FPS (Pascal)</text>
<text x="371.6" y="269.0" font-size="6.4" fill="#4c4c4c" text-anchor="middle" font-weight="bold" textLength="16.3" lengthAdjust="spacingAndGlyphs" transform="rotate(-90 371.6 269.0)">AP50</text>
<text x="500.6" y="194.3" font-size="10.1" fill="#4a4a4a" text-anchor="middle" font-weight="bold" textLength="122.5" lengthAdjust="spacingAndGlyphs" >MS COCO Object Detection</text>
<text x="482.9" y="204.3" font-size="8.2" fill="#7d94a8" text-anchor="start" textLength="28.5" lengthAdjust="spacingAndGlyphs" >real-time</text>
<path d="M420.0 261.7L433.5 262.1L451.7 273.1L459.6 280.4L513.0 312.9" stroke="#a8a8a8" stroke-width="0.9" fill="none" stroke-linejoin="round"/>
<circle cx="420.0" cy="261.7" r="1.6" fill="#a8a8a8"/>
<circle cx="433.5" cy="262.1" r="1.6" fill="#a8a8a8"/>
<circle cx="451.7" cy="273.1" r="1.6" fill="#a8a8a8"/>
<circle cx="459.6" cy="280.4" r="1.6" fill="#a8a8a8"/>
<circle cx="513.0" cy="312.9" r="1.6" fill="#a8a8a8"/>
<path d="M454.4 276.9L467.3 276.9L537.5 312.0" stroke="#f6d9bd" stroke-width="2.5" fill="none" opacity="0.32" stroke-linecap="round" stroke-linejoin="round"/>
<path d="M454.4 276.9L467.3 276.9L537.5 312.0" stroke="#d4905a" stroke-width="0.9" fill="none" stroke-linejoin="round"/>
<circle cx="454.4" cy="276.9" r="2.5" fill="#f6d9bd" opacity="0.42"/>
<circle cx="454.4" cy="276.9" r="1.6" fill="#d4905a"/>
<circle cx="467.3" cy="276.9" r="2.5" fill="#f6d9bd" opacity="0.42"/>
<circle cx="467.3" cy="276.9" r="1.6" fill="#d4905a"/>
<circle cx="537.5" cy="312.0" r="2.5" fill="#f6d9bd" opacity="0.42"/>
<circle cx="537.5" cy="312.0" r="1.6" fill="#d4905a"/>
<circle cx="497.1" cy="315.0" r="2.5" fill="#fbe9a0" opacity="0.42"/>
<circle cx="497.1" cy="315.0" r="1.6" fill="#efd040"/>
<path d="M389.2 220.0L393.8 246.0" stroke="#bd845e" stroke-width="0.9" fill="none" stroke-linejoin="round"/>
<circle cx="389.2" cy="220.0" r="1.6" fill="#ecb38c"/>
<circle cx="393.8" cy="246.0" r="1.6" fill="#ecb38c"/>
<path d="M395.8 254.0L399.2 273.1" stroke="#8499b3" stroke-width="0.9" fill="none" stroke-linejoin="round"/>
<circle cx="395.8" cy="254.0" r="1.6" fill="#a9c6e0"/>
<circle cx="399.2" cy="273.1" r="1.6" fill="#a9c6e0"/>
<path d="M398.8 252.9L406.2 258.1L407.5 263.8L411.0 278.3" stroke="#ece680" stroke-width="2.5" fill="none" opacity="0.32" stroke-linecap="round" stroke-linejoin="round"/>
<path d="M398.8 252.9L406.2 258.1L407.5 263.8L411.0 278.3" stroke="#6f6c1c" stroke-width="0.9" fill="none" stroke-linejoin="round"/>
<circle cx="398.8" cy="252.9" r="2.5" fill="#ece680" opacity="0.42"/>
<circle cx="398.8" cy="252.9" r="1.6" fill="#6f6c1c"/>
<circle cx="406.2" cy="258.1" r="2.5" fill="#ece680" opacity="0.42"/>
<circle cx="406.2" cy="258.1" r="1.6" fill="#6f6c1c"/>
<circle cx="407.5" cy="263.8" r="2.5" fill="#ece680" opacity="0.42"/>
<circle cx="407.5" cy="263.8" r="1.6" fill="#6f6c1c"/>
<circle cx="411.0" cy="278.3" r="2.5" fill="#ece680" opacity="0.42"/>
<circle cx="411.0" cy="278.3" r="1.6" fill="#6f6c1c"/>
<path d="M415.4 274.3L419.4 289.4" stroke="#6b9448" stroke-width="0.9" fill="none" stroke-linejoin="round"/>
<circle cx="415.4" cy="274.3" r="1.6" fill="#6b9448"/>
<circle cx="419.4" cy="289.4" r="1.6" fill="#6b9448"/>
<path d="M414.2 231.0L425.2 240.4L432.9 256.9" stroke="#34507f" stroke-width="0.9" fill="none" stroke-linejoin="round"/>
<circle cx="414.2" cy="231.0" r="1.6" fill="#34507f"/>
<circle cx="425.2" cy="240.4" r="1.6" fill="#34507f"/>
<circle cx="432.9" cy="256.9" r="1.6" fill="#34507f"/>
<path d="M410.6 229.8L417.3 250.2" stroke="#1f3e66" stroke-width="1.1" fill="none" stroke-linejoin="round"/>
<circle cx="410.6" cy="229.8" r="1.6" fill="#1f3e66"/>
<circle cx="417.3" cy="250.2" r="1.6" fill="#1f3e66"/>
<path d="M414.2 255.0L415.8 255.8" stroke="#4f3220" stroke-width="0.9" fill="none" stroke-linejoin="round"/>
<circle cx="414.2" cy="255.0" r="1.6" fill="#4f3220"/>
<circle cx="415.8" cy="255.8" r="1.6" fill="#4f3220"/>
<circle cx="410.6" cy="255.8" r="1.6" fill="#4a4a4a"/>
<circle cx="413.0" cy="254.6" r="1.6" fill="#2f4a2a"/>
<path d="M490.6 232.5L522.9 237.5L558.3 251.2" stroke="#17283a" stroke-width="1.1" fill="none" stroke-linejoin="round"/>
<circle cx="490.6" cy="232.5" r="1.6" fill="#17283a"/>
<circle cx="522.9" cy="237.5" r="1.6" fill="#17283a"/>
<circle cx="558.3" cy="251.2" r="1.6" fill="#17283a"/>
<text x="388.0" y="216.2" font-size="6.3" fill="#e9a877" text-anchor="start" font-weight="bold" textLength="29.0" lengthAdjust="spacingAndGlyphs" >TridentNet</text>
<text x="394.8" y="225.5" font-size="6.8" fill="#1f3e66" text-anchor="start" font-weight="bold" textLength="17.5" lengthAdjust="spacingAndGlyphs" >RPDet</text>
<text x="432.5" y="243.2" font-size="6.8" fill="#44598a" text-anchor="start" font-weight="bold" textLength="17.0" lengthAdjust="spacingAndGlyphs" >SAPD</text>
<text x="444.4" y="263.2" font-size="6.5" fill="#b9b9b9" text-anchor="start" textLength="13.0" lengthAdjust="spacingAndGlyphs" >HSD</text>
<text x="482.5" y="279.8" font-size="6.5" fill="#e2a35f" text-anchor="start" textLength="24.5" lengthAdjust="spacingAndGlyphs" >EFGRNet</text>
<text x="502.9" y="230.6" font-size="7.3" fill="#1f3f66" text-anchor="start" font-weight="bold" textLength="51.5" lengthAdjust="spacingAndGlyphs" >YOLOv4 (ours)</text>
<path d="M586.3 221.1H596.4" stroke="#17283a" stroke-width="0.8" opacity="0.7"/>
<circle cx="591.3" cy="221.1" r="1.4" fill="#17283a"/>
<text x="598.4" y="223.0" font-size="5.9" fill="#4d4d4d" text-anchor="start" font-weight="bold" textLength="37.5" lengthAdjust="spacingAndGlyphs" >YOLOv4 (ours)</text>
<path d="M586.3 230.2H596.4" stroke="#f6d9bd" stroke-width="2.4" opacity="0.45" stroke-linecap="round"/>
<circle cx="591.3" cy="230.2" r="2.2" fill="#f6d9bd" opacity="0.45"/>
<path d="M586.3 230.2H596.4" stroke="#d4905a" stroke-width="0.8" opacity="0.7"/>
<circle cx="591.3" cy="230.2" r="1.4" fill="#d4905a"/>
<text x="598.4" y="232.1" font-size="5.9" fill="#4d4d4d" text-anchor="start" font-weight="bold" textLength="23.0" lengthAdjust="spacingAndGlyphs" >EFGRNet</text>
<path d="M586.3 239.6H596.4" stroke="#a8a8a8" stroke-width="0.8" opacity="0.7"/>
<circle cx="591.3" cy="239.6" r="1.4" fill="#a8a8a8"/>
<text x="598.4" y="241.5" font-size="5.9" fill="#4d4d4d" text-anchor="start" font-weight="bold" textLength="10.5" lengthAdjust="spacingAndGlyphs" >HSD</text>
<path d="M586.3 249.0H596.4" stroke="#fbe9a0" stroke-width="2.4" opacity="0.45" stroke-linecap="round"/>
<circle cx="591.3" cy="249.0" r="2.2" fill="#fbe9a0" opacity="0.45"/>
<path d="M586.3 249.0H596.4" stroke="#efd040" stroke-width="0.8" opacity="0.7"/>
<circle cx="591.3" cy="249.0" r="1.4" fill="#efd040"/>
<text x="598.4" y="250.9" font-size="5.9" fill="#4d4d4d" text-anchor="start" font-weight="bold" textLength="14.0" lengthAdjust="spacingAndGlyphs" >DAFS</text>
<path d="M586.3 258.3H596.4" stroke="#34507f" stroke-width="0.8" opacity="0.7"/>
<circle cx="591.3" cy="258.3" r="1.4" fill="#34507f"/>
<text x="598.4" y="260.2" font-size="5.9" fill="#4d4d4d" text-anchor="start" font-weight="bold" textLength="14.0" lengthAdjust="spacingAndGlyphs" >SAPD</text>
<path d="M586.3 267.8H596.4" stroke="#6b9448" stroke-width="0.8" opacity="0.7"/>
<circle cx="591.3" cy="267.8" r="1.4" fill="#6b9448"/>
<text x="598.4" y="269.7" font-size="5.9" fill="#4d4d4d" text-anchor="start" font-weight="bold" textLength="34.5" lengthAdjust="spacingAndGlyphs" >GuidedAnchor</text>
<path d="M586.3 277.2H596.4" stroke="#1f3e66" stroke-width="0.8" opacity="0.7"/>
<circle cx="591.3" cy="277.2" r="1.4" fill="#1f3e66"/>
<text x="598.4" y="279.1" font-size="5.9" fill="#4d4d4d" text-anchor="start" font-weight="bold" textLength="15.5" lengthAdjust="spacingAndGlyphs" >RPDet</text>
<path d="M586.3 286.7H596.4" stroke="#f3c9a0" stroke-width="2.4" opacity="0.45" stroke-linecap="round"/>
<circle cx="591.3" cy="286.7" r="2.2" fill="#f3c9a0" opacity="0.45"/>
<path d="M586.3 286.7H596.4" stroke="#4f3220" stroke-width="0.8" opacity="0.7"/>
<circle cx="591.3" cy="286.7" r="1.4" fill="#4f3220"/>
<text x="598.4" y="288.6" font-size="5.9" fill="#4d4d4d" text-anchor="start" font-weight="bold" textLength="32.5" lengthAdjust="spacingAndGlyphs" >Libra R-CNN</text>
<path d="M586.3 296.2H596.4" stroke="#4a4a4a" stroke-width="0.8" opacity="0.7"/>
<circle cx="591.3" cy="296.2" r="1.4" fill="#4a4a4a"/>
<text x="598.4" y="298.1" font-size="5.9" fill="#4d4d4d" text-anchor="start" font-weight="bold" textLength="28.0" lengthAdjust="spacingAndGlyphs" >FreeAnchor</text>
<path d="M586.3 305.5H596.4" stroke="#f3e6a0" stroke-width="2.4" opacity="0.45" stroke-linecap="round"/>
<circle cx="591.3" cy="305.5" r="2.2" fill="#f3e6a0" opacity="0.45"/>
<path d="M586.3 305.5H596.4" stroke="#6f6c1c" stroke-width="0.8" opacity="0.7"/>
<circle cx="591.3" cy="305.5" r="1.4" fill="#6f6c1c"/>
<text x="598.4" y="307.4" font-size="5.9" fill="#4d4d4d" text-anchor="start" font-weight="bold" textLength="28.0" lengthAdjust="spacingAndGlyphs" >RetinaMask</text>
<path d="M586.3 314.9H596.4" stroke="#2f4a2a" stroke-width="0.8" opacity="0.7"/>
<circle cx="591.3" cy="314.9" r="1.4" fill="#2f4a2a"/>
<text x="598.4" y="316.8" font-size="5.9" fill="#4d4d4d" text-anchor="start" font-weight="bold" textLength="38.0" lengthAdjust="spacingAndGlyphs" >Cascade R-CNN</text>
<path d="M586.3 324.2H596.4" stroke="#8499b3" stroke-width="0.8" opacity="0.7"/>
<circle cx="591.3" cy="324.2" r="1.4" fill="#8499b3"/>
<text x="598.4" y="326.1" font-size="5.9" fill="#4d4d4d" text-anchor="start" font-weight="bold" textLength="25.0" lengthAdjust="spacingAndGlyphs" >CenterNet</text>
<path d="M586.3 333.8H596.4" stroke="#fae3d0" stroke-width="2.4" opacity="0.45" stroke-linecap="round"/>
<circle cx="591.3" cy="333.8" r="2.2" fill="#fae3d0" opacity="0.45"/>
<path d="M586.3 333.8H596.4" stroke="#bd845e" stroke-width="0.8" opacity="0.7"/>
<circle cx="591.3" cy="333.8" r="1.4" fill="#bd845e"/>
<text x="598.4" y="335.7" font-size="5.9" fill="#4d4d4d" text-anchor="start" font-weight="bold" textLength="26.5" lengthAdjust="spacingAndGlyphs" >TridentNet</text>
<rect x="158.0" y="380.4" width="133.4" height="129.2" fill="#c9fcfc"/>
<path d="M99.9 380.4V509.6M119.1 380.4V509.6M138.2 380.4V509.6M157.3 380.4V509.6M176.5 380.4V509.6M195.6 380.4V509.6M214.8 380.4V509.6M233.9 380.4V509.6M253.1 380.4V509.6M272.2 380.4V509.6M291.4 380.4V509.6M99.9 509.6H291.4M99.9 496.7H291.4M99.9 483.8H291.4M99.9 470.8H291.4M99.9 457.9H291.4M99.9 445.0H291.4M99.9 432.1H291.4M99.9 419.2H291.4M99.9 406.2H291.4M99.9 393.3H291.4M99.9 380.4H291.4" stroke="#e9e9e9" stroke-width="0.6" fill="none" opacity="0.9"/>
<rect x="158.0" y="380.4" width="133.4" height="129.2" fill="#c9fcfc"/>
<path d="M176.5 380.4V509.6M195.6 380.4V509.6M214.8 380.4V509.6M233.9 380.4V509.6M253.1 380.4V509.6M272.2 380.4V509.6M291.4 380.4V509.6M158.0 509.6H291.4M158.0 496.7H291.4M158.0 483.8H291.4M158.0 470.8H291.4M158.0 457.9H291.4M158.0 445.0H291.4M158.0 432.1H291.4M158.0 419.2H291.4M158.0 406.2H291.4M158.0 393.3H291.4M158.0 380.4H291.4" stroke="#a9d3dc" stroke-width="0.6" fill="none" opacity="0.45"/>
<path d="M99.9 380.4V509.6H291.4" stroke="#d9d9d9" stroke-width="0.7" fill="none"/>
<path d="M158.0 379.4V509.6" stroke="#6fb6d2" stroke-width="1.9" opacity="0.4"/>
<path d="M158.0 379.4V509.6" stroke="#347fae" stroke-width="1.2"/>
<text x="99.9" y="517.2" font-size="5.2" fill="#4a4a4a" text-anchor="middle" font-weight="bold" >0</text>
<text x="119.1" y="517.2" font-size="5.2" fill="#4a4a4a" text-anchor="middle" font-weight="bold" >10</text>
<text x="138.2" y="517.2" font-size="5.2" fill="#4a4a4a" text-anchor="middle" font-weight="bold" >20</text>
<text x="157.3" y="517.2" font-size="5.2" fill="#4a4a4a" text-anchor="middle" font-weight="bold" >30</text>
<text x="176.5" y="517.2" font-size="5.2" fill="#4a4a4a" text-anchor="middle" font-weight="bold" >40</text>
<text x="195.6" y="517.2" font-size="5.2" fill="#4a4a4a" text-anchor="middle" font-weight="bold" >50</text>
<text x="214.8" y="517.2" font-size="5.2" fill="#4a4a4a" text-anchor="middle" font-weight="bold" >60</text>
<text x="233.9" y="517.2" font-size="5.2" fill="#4a4a4a" text-anchor="middle" font-weight="bold" >70</text>
<text x="253.1" y="517.2" font-size="5.2" fill="#4a4a4a" text-anchor="middle" font-weight="bold" >80</text>
<text x="272.2" y="517.2" font-size="5.2" fill="#4a4a4a" text-anchor="middle" font-weight="bold" >90</text>
<text x="291.4" y="517.2" font-size="5.2" fill="#4a4a4a" text-anchor="middle" font-weight="bold" >100</text>
<text x="95.7" y="511.3" font-size="4.9" fill="#4a4a4a" text-anchor="end" font-weight="bold" >30</text>
<text x="95.7" y="498.4" font-size="4.9" fill="#4a4a4a" text-anchor="end" font-weight="bold" >32</text>
<text x="95.7" y="485.5" font-size="4.9" fill="#4a4a4a" text-anchor="end" font-weight="bold" >34</text>
<text x="95.7" y="472.5" font-size="4.9" fill="#4a4a4a" text-anchor="end" font-weight="bold" >36</text>
<text x="95.7" y="459.6" font-size="4.9" fill="#4a4a4a" text-anchor="end" font-weight="bold" >38</text>
<text x="95.7" y="446.7" font-size="4.9" fill="#4a4a4a" text-anchor="end" font-weight="bold" >40</text>
<text x="95.7" y="433.8" font-size="4.9" fill="#4a4a4a" text-anchor="end" font-weight="bold" >42</text>
<text x="95.7" y="420.9" font-size="4.9" fill="#4a4a4a" text-anchor="end" font-weight="bold" >44</text>
<text x="95.7" y="407.9" font-size="4.9" fill="#4a4a4a" text-anchor="end" font-weight="bold" >46</text>
<text x="95.7" y="395.0" font-size="4.9" fill="#4a4a4a" text-anchor="end" font-weight="bold" >48</text>
<text x="95.7" y="382.1" font-size="4.9" fill="#4a4a4a" text-anchor="end" font-weight="bold" >50</text>
<text x="195.7" y="525.8" font-size="6.4" fill="#4c4c4c" text-anchor="middle" font-weight="bold" textLength="32.5" lengthAdjust="spacingAndGlyphs" >FPS (Volta)</text>
<text x="87.5" y="445.0" font-size="6.4" fill="#4c4c4c" text-anchor="middle" font-weight="bold" textLength="8.0" lengthAdjust="spacingAndGlyphs" transform="rotate(-90 87.5 445.0)">AP</text>
<text x="216.1" y="371.0" font-size="10.1" fill="#4a4a4a" text-anchor="middle" font-weight="bold" textLength="122.5" lengthAdjust="spacingAndGlyphs" >MS COCO Object Detection</text>
<text x="159.0" y="378.7" font-size="8.2" fill="#7d94a8" text-anchor="start" textLength="28.5" lengthAdjust="spacingAndGlyphs" >real-time</text>
<path d="M170.6 464.8L179.0 483.8" stroke="#9fb6b8" stroke-width="0.9" fill="none" stroke-linejoin="round"/>
<circle cx="170.6" cy="464.8" r="1.6" fill="#9fb6b8"/>
<circle cx="179.0" cy="483.8" r="1.6" fill="#9fb6b8"/>
<path d="M129.4 437.4L137.7 444.0L156.0 458.8L170.6 464.8" stroke="#fbe9a0" stroke-width="2.5" fill="none" opacity="0.32" stroke-linecap="round" stroke-linejoin="round"/>
<path d="M129.4 437.4L137.7 444.0L156.0 458.8L170.6 464.8" stroke="#ecd448" stroke-width="0.9" fill="none" stroke-linejoin="round"/>
<circle cx="129.4" cy="437.4" r="2.5" fill="#fbe9a0" opacity="0.42"/>
<circle cx="129.4" cy="437.4" r="1.6" fill="#ecd448"/>
<circle cx="137.7" cy="444.0" r="2.5" fill="#fbe9a0" opacity="0.42"/>
<circle cx="137.7" cy="444.0" r="1.6" fill="#ecd448"/>
<circle cx="156.0" cy="458.8" r="2.5" fill="#fbe9a0" opacity="0.42"/>
<circle cx="156.0" cy="458.8" r="1.6" fill="#ecd448"/>
<circle cx="170.6" cy="464.8" r="2.5" fill="#fbe9a0" opacity="0.42"/>
<circle cx="170.6" cy="464.8" r="1.6" fill="#ecd448"/>
<path d="M156.0 419.4L179.4 425.4L186.2 429.2L202.9 440.8L214.4 457.1" stroke="#f6d9bd" stroke-width="2.5" fill="none" opacity="0.32" stroke-linecap="round" stroke-linejoin="round"/>
<path d="M156.0 419.4L179.4 425.4L186.2 429.2L202.9 440.8L214.4 457.1" stroke="#e2955a" stroke-width="0.9" fill="none" stroke-linejoin="round"/>
<circle cx="156.0" cy="419.4" r="2.5" fill="#f6d9bd" opacity="0.42"/>
<circle cx="156.0" cy="419.4" r="1.6" fill="#e2955a"/>
<circle cx="179.4" cy="425.4" r="2.5" fill="#f6d9bd" opacity="0.42"/>
<circle cx="179.4" cy="425.4" r="1.6" fill="#e2955a"/>
<circle cx="186.2" cy="429.2" r="2.5" fill="#f6d9bd" opacity="0.42"/>
<circle cx="186.2" cy="429.2" r="1.6" fill="#e2955a"/>
<circle cx="202.9" cy="440.8" r="2.5" fill="#f6d9bd" opacity="0.42"/>
<circle cx="202.9" cy="440.8" r="1.6" fill="#e2955a"/>
<circle cx="214.4" cy="457.1" r="2.5" fill="#f6d9bd" opacity="0.42"/>
<circle cx="214.4" cy="457.1" r="1.6" fill="#e2955a"/>
<path d="M125.4 383.5L145.4 406.9L179.4 425.2L195.4 447.0L219.2 484.8" stroke="#5a89a4" stroke-width="0.9" fill="none" stroke-linejoin="round"/>
<circle cx="125.4" cy="383.5" r="1.6" fill="#5a89a4"/>
<circle cx="145.4" cy="406.9" r="1.6" fill="#5a89a4"/>
<circle cx="179.4" cy="425.2" r="1.6" fill="#5a89a4"/>
<circle cx="195.4" cy="447.0" r="1.6" fill="#5a89a4"/>
<circle cx="219.2" cy="484.8" r="1.6" fill="#5a89a4"/>
<path d="M123.8 417.3L148.3 444.8" stroke="#638f52" stroke-width="0.9" fill="none" stroke-linejoin="round"/>
<circle cx="123.8" cy="417.3" r="1.6" fill="#638f52"/>
<circle cx="148.3" cy="444.8" r="1.6" fill="#638f52"/>
<path d="M117.5 406.2L137.3 426.7L147.3 444.8" stroke="#354f80" stroke-width="0.9" fill="none" stroke-linejoin="round"/>
<circle cx="117.5" cy="406.2" r="1.6" fill="#354f80"/>
<circle cx="137.3" cy="426.7" r="1.6" fill="#354f80"/>
<circle cx="147.3" cy="444.8" r="1.6" fill="#354f80"/>
<path d="M124.4 402.3L128.5 419.0" stroke="#f3e6a0" stroke-width="2.5" fill="none" opacity="0.32" stroke-linecap="round" stroke-linejoin="round"/>
<path d="M124.4 402.3L128.5 419.0" stroke="#8a6a14" stroke-width="0.9" fill="none" stroke-linejoin="round"/>
<circle cx="124.4" cy="402.3" r="2.5" fill="#f3e6a0" opacity="0.42"/>
<circle cx="124.4" cy="402.3" r="1.6" fill="#8a6a14"/>
<circle cx="128.5" cy="419.0" r="2.5" fill="#f3e6a0" opacity="0.42"/>
<circle cx="128.5" cy="419.0" r="1.6" fill="#8a6a14"/>
<path d="M125.8 403.8L133.1 421.5" stroke="#f3c9a0" stroke-width="2.5" fill="none" opacity="0.32" stroke-linecap="round" stroke-linejoin="round"/>
<path d="M125.8 403.8L133.1 421.5" stroke="#8a4a18" stroke-width="0.9" fill="none" stroke-linejoin="round"/>
<circle cx="125.8" cy="403.8" r="2.5" fill="#f3c9a0" opacity="0.42"/>
<circle cx="125.8" cy="403.8" r="1.6" fill="#8a4a18"/>
<circle cx="133.1" cy="421.5" r="2.5" fill="#f3c9a0" opacity="0.42"/>
<circle cx="133.1" cy="421.5" r="1.6" fill="#8a4a18"/>
<path d="M120.2 457.1L132.1 470.6" stroke="#404040" stroke-width="1.0" fill="none" stroke-linejoin="round"/>
<circle cx="120.2" cy="457.1" r="1.6" fill="#404040"/>
<circle cx="132.1" cy="470.6" r="1.6" fill="#404040"/>
<path d="M218.4 421.8L258.3 425.1L282.8 436.5" stroke="#21566a" stroke-width="1.0" fill="none" stroke-linejoin="round"/>
<rect x="216.7" y="420.1" width="3.4" height="3.4" fill="#21566a"/>
<rect x="256.6" y="423.4" width="3.4" height="3.4" fill="#21566a"/>
<rect x="281.1" y="434.8" width="3.4" height="3.4" fill="#21566a"/>
<text x="137.3" y="389.8" font-size="6.3" fill="#5b8fb4" text-anchor="start" textLength="30.5" lengthAdjust="spacingAndGlyphs" >EfficientDet</text>
<text x="192.0" y="429.9" font-size="6.6" fill="#e2a35f" text-anchor="start" textLength="17.5" lengthAdjust="spacingAndGlyphs" >ASFF*</text>
<text x="217.6" y="416.2" font-size="7.3" fill="#1d4f63" text-anchor="start" font-weight="bold" textLength="51.6" lengthAdjust="spacingAndGlyphs" >YOLOv4 (ours)</text>
<path d="M303.5 411.7H313.8" stroke="#21566a" stroke-width="0.8" opacity="0.7"/>
<rect x="307.1" y="410.2" width="3" height="3" fill="#21566a"/>
<text x="315.6" y="413.6" font-size="5.9" fill="#4d4d4d" text-anchor="start" font-weight="bold" textLength="37.5" lengthAdjust="spacingAndGlyphs" >YOLOv4 (ours)</text>
<path d="M303.5 421.2H313.8" stroke="#5a89a4" stroke-width="0.8" opacity="0.7"/>
<circle cx="308.6" cy="421.2" r="1.4" fill="#5a89a4"/>
<text x="315.6" y="423.1" font-size="5.9" fill="#4d4d4d" text-anchor="start" font-weight="bold" textLength="29.5" lengthAdjust="spacingAndGlyphs" >EfficientDet</text>
<path d="M303.5 430.6H313.8" stroke="#f6d9bd" stroke-width="2.4" opacity="0.45" stroke-linecap="round"/>
<circle cx="308.6" cy="430.6" r="2.2" fill="#f6d9bd" opacity="0.45"/>
<path d="M303.5 430.6H313.8" stroke="#e2955a" stroke-width="0.8" opacity="0.7"/>
<circle cx="308.6" cy="430.6" r="1.4" fill="#e2955a"/>
<text x="315.6" y="432.5" font-size="5.9" fill="#4d4d4d" text-anchor="start" font-weight="bold" textLength="16.0" lengthAdjust="spacingAndGlyphs" >ASFF*</text>
<path d="M303.5 440.0H313.8" stroke="#9fb6b8" stroke-width="0.8" opacity="0.7"/>
<circle cx="308.6" cy="440.0" r="1.4" fill="#9fb6b8"/>
<text x="315.6" y="441.9" font-size="5.9" fill="#4d4d4d" text-anchor="start" font-weight="bold" textLength="21.5" lengthAdjust="spacingAndGlyphs" >HarDNet</text>
<path d="M303.5 449.4H313.8" stroke="#fbe9a0" stroke-width="2.4" opacity="0.45" stroke-linecap="round"/>
<circle cx="308.6" cy="449.4" r="2.2" fill="#fbe9a0" opacity="0.45"/>
<path d="M303.5 449.4H313.8" stroke="#ecd448" stroke-width="0.8" opacity="0.7"/>
<circle cx="308.6" cy="449.4" r="1.4" fill="#ecd448"/>
<text x="315.6" y="451.3" font-size="5.9" fill="#4d4d4d" text-anchor="start" font-weight="bold" textLength="24.0" lengthAdjust="spacingAndGlyphs" >RetinaNet</text>
<path d="M303.5 458.8H313.8" stroke="#354f80" stroke-width="0.8" opacity="0.7"/>
<circle cx="308.6" cy="458.8" r="1.4" fill="#354f80"/>
<text x="315.6" y="460.7" font-size="5.9" fill="#4d4d4d" text-anchor="start" font-weight="bold" textLength="21.0" lengthAdjust="spacingAndGlyphs" >SM-NAS</text>
<path d="M303.5 468.2H313.8" stroke="#638f52" stroke-width="0.8" opacity="0.7"/>
<circle cx="308.6" cy="468.2" r="1.4" fill="#638f52"/>
<text x="315.6" y="470.1" font-size="5.9" fill="#4d4d4d" text-anchor="start" font-weight="bold" textLength="23.5" lengthAdjust="spacingAndGlyphs" >NAS-FPN</text>
<path d="M303.5 477.6H313.8" stroke="#f3c9a0" stroke-width="2.4" opacity="0.45" stroke-linecap="round"/>
<circle cx="308.6" cy="477.6" r="2.2" fill="#f3c9a0" opacity="0.45"/>
<path d="M303.5 477.6H313.8" stroke="#8a4a18" stroke-width="0.8" opacity="0.7"/>
<circle cx="308.6" cy="477.6" r="1.4" fill="#8a4a18"/>
<text x="315.6" y="479.5" font-size="5.9" fill="#4d4d4d" text-anchor="start" font-weight="bold" textLength="13.5" lengthAdjust="spacingAndGlyphs" >ATSS</text>
<path d="M303.5 487.0H313.8" stroke="#404040" stroke-width="0.8" opacity="0.7"/>
<circle cx="308.6" cy="487.0" r="1.4" fill="#404040"/>
<text x="315.6" y="488.9" font-size="5.9" fill="#4d4d4d" text-anchor="start" font-weight="bold" textLength="19.0" lengthAdjust="spacingAndGlyphs" >RDSNet</text>
<path d="M303.5 496.5H313.8" stroke="#f3e6a0" stroke-width="2.4" opacity="0.45" stroke-linecap="round"/>
<circle cx="308.6" cy="496.5" r="2.2" fill="#f3e6a0" opacity="0.45"/>
<path d="M303.5 496.5H313.8" stroke="#8a6a14" stroke-width="0.8" opacity="0.7"/>
<circle cx="308.6" cy="496.5" r="1.4" fill="#8a6a14"/>
<text x="315.6" y="498.4" font-size="5.9" fill="#4d4d4d" text-anchor="start" font-weight="bold" textLength="29.0" lengthAdjust="spacingAndGlyphs" >CenterMask</text>
<rect x="442.4" y="380.4" width="133.5" height="129.0" fill="#c9fcfc"/>
<path d="M384.3 380.4V509.4M403.5 380.4V509.4M422.6 380.4V509.4M441.8 380.4V509.4M460.9 380.4V509.4M480.1 380.4V509.4M499.3 380.4V509.4M518.4 380.4V509.4M537.6 380.4V509.4M556.7 380.4V509.4M575.9 380.4V509.4M384.3 509.4H575.9M384.3 496.5H575.9M384.3 483.6H575.9M384.3 470.7H575.9M384.3 457.8H575.9M384.3 444.9H575.9M384.3 432.0H575.9M384.3 419.1H575.9M384.3 406.2H575.9M384.3 393.3H575.9M384.3 380.4H575.9" stroke="#e9e9e9" stroke-width="0.6" fill="none" opacity="0.9"/>
<rect x="442.4" y="380.4" width="133.5" height="129.0" fill="#c9fcfc"/>
<path d="M460.9 380.4V509.4M480.1 380.4V509.4M499.3 380.4V509.4M518.4 380.4V509.4M537.6 380.4V509.4M556.7 380.4V509.4M575.9 380.4V509.4M442.4 509.4H575.9M442.4 496.5H575.9M442.4 483.6H575.9M442.4 470.7H575.9M442.4 457.8H575.9M442.4 444.9H575.9M442.4 432.0H575.9M442.4 419.1H575.9M442.4 406.2H575.9M442.4 393.3H575.9M442.4 380.4H575.9" stroke="#a9d3dc" stroke-width="0.6" fill="none" opacity="0.28"/>
<path d="M384.3 380.4V509.4H575.9" stroke="#d9d9d9" stroke-width="0.7" fill="none"/>
<path d="M442.4 379.4V509.4" stroke="#6fb6d2" stroke-width="1.9" opacity="0.4"/>
<path d="M442.4 379.4V509.4" stroke="#347fae" stroke-width="1.2"/>
<text x="384.3" y="517.0" font-size="5.2" fill="#4a4a4a" text-anchor="middle" font-weight="bold" >0</text>
<text x="403.5" y="517.0" font-size="5.2" fill="#4a4a4a" text-anchor="middle" font-weight="bold" >10</text>
<text x="422.6" y="517.0" font-size="5.2" fill="#4a4a4a" text-anchor="middle" font-weight="bold" >20</text>
<text x="441.8" y="517.0" font-size="5.2" fill="#4a4a4a" text-anchor="middle" font-weight="bold" >30</text>
<text x="460.9" y="517.0" font-size="5.2" fill="#4a4a4a" text-anchor="middle" font-weight="bold" >40</text>
<text x="480.1" y="517.0" font-size="5.2" fill="#4a4a4a" text-anchor="middle" font-weight="bold" >50</text>
<text x="499.3" y="517.0" font-size="5.2" fill="#4a4a4a" text-anchor="middle" font-weight="bold" >60</text>
<text x="518.4" y="517.0" font-size="5.2" fill="#4a4a4a" text-anchor="middle" font-weight="bold" >70</text>
<text x="537.6" y="517.0" font-size="5.2" fill="#4a4a4a" text-anchor="middle" font-weight="bold" >80</text>
<text x="556.7" y="517.0" font-size="5.2" fill="#4a4a4a" text-anchor="middle" font-weight="bold" >90</text>
<text x="575.9" y="517.0" font-size="5.2" fill="#4a4a4a" text-anchor="middle" font-weight="bold" >100</text>
<text x="380.1" y="511.1" font-size="4.9" fill="#4a4a4a" text-anchor="end" font-weight="bold" >50</text>
<text x="380.1" y="498.2" font-size="4.9" fill="#4a4a4a" text-anchor="end" font-weight="bold" >52</text>
<text x="380.1" y="485.3" font-size="4.9" fill="#4a4a4a" text-anchor="end" font-weight="bold" >54</text>
<text x="380.1" y="472.4" font-size="4.9" fill="#4a4a4a" text-anchor="end" font-weight="bold" >56</text>
<text x="380.1" y="459.5" font-size="4.9" fill="#4a4a4a" text-anchor="end" font-weight="bold" >58</text>
<text x="380.1" y="446.6" font-size="4.9" fill="#4a4a4a" text-anchor="end" font-weight="bold" >60</text>
<text x="380.1" y="433.7" font-size="4.9" fill="#4a4a4a" text-anchor="end" font-weight="bold" >62</text>
<text x="380.1" y="420.8" font-size="4.9" fill="#4a4a4a" text-anchor="end" font-weight="bold" >64</text>
<text x="380.1" y="407.9" font-size="4.9" fill="#4a4a4a" text-anchor="end" font-weight="bold" >66</text>
<text x="380.1" y="395.0" font-size="4.9" fill="#4a4a4a" text-anchor="end" font-weight="bold" >68</text>
<text x="380.1" y="382.1" font-size="4.9" fill="#4a4a4a" text-anchor="end" font-weight="bold" >70</text>
<text x="480.2" y="526.0" font-size="6.4" fill="#4c4c4c" text-anchor="middle" font-weight="bold" textLength="32.5" lengthAdjust="spacingAndGlyphs" >FPS (Volta)</text>
<text x="371.6" y="445.0" font-size="6.4" fill="#4c4c4c" text-anchor="middle" font-weight="bold" textLength="16.3" lengthAdjust="spacingAndGlyphs" transform="rotate(-90 371.6 445.0)">AP50</text>
<text x="500.7" y="371.0" font-size="10.1" fill="#4a4a4a" text-anchor="middle" font-weight="bold" textLength="122.5" lengthAdjust="spacingAndGlyphs" >MS COCO Object Detection</text>
<text x="443.4" y="378.9" font-size="8.2" fill="#7d94a8" text-anchor="start" textLength="28.5" lengthAdjust="spacingAndGlyphs" >real-time</text>
<path d="M455.5 463.3L463.4 481.7" stroke="#9fb6b8" stroke-width="0.9" fill="none" stroke-linejoin="round"/>
<circle cx="455.5" cy="463.3" r="1.6" fill="#9fb6b8"/>
<circle cx="463.4" cy="481.7" r="1.6" fill="#9fb6b8"/>
<path d="M441.2 418.3L471.3 425.4L487.5 440.8L498.9 461.5" stroke="#f6d9bd" stroke-width="2.5" fill="none" opacity="0.32" stroke-linecap="round" stroke-linejoin="round"/>
<path d="M441.2 418.3L471.3 425.4L487.5 440.8L498.9 461.5" stroke="#e2955a" stroke-width="0.9" fill="none" stroke-linejoin="round"/>
<circle cx="441.2" cy="418.3" r="2.5" fill="#f6d9bd" opacity="0.42"/>
<circle cx="441.2" cy="418.3" r="1.6" fill="#e2955a"/>
<circle cx="471.3" cy="425.4" r="2.5" fill="#f6d9bd" opacity="0.42"/>
<circle cx="471.3" cy="425.4" r="1.6" fill="#e2955a"/>
<circle cx="487.5" cy="440.8" r="2.5" fill="#f6d9bd" opacity="0.42"/>
<circle cx="487.5" cy="440.8" r="1.6" fill="#e2955a"/>
<circle cx="498.9" cy="461.5" r="2.5" fill="#f6d9bd" opacity="0.42"/>
<circle cx="498.9" cy="461.5" r="1.6" fill="#e2955a"/>
<path d="M410.0 386.7L430.0 412.1L441.2 418.3L464.1 430.0L479.9 453.5L503.7 495.4" stroke="#5a89a4" stroke-width="0.9" fill="none" stroke-linejoin="round"/>
<circle cx="410.0" cy="386.7" r="1.6" fill="#5a89a4"/>
<circle cx="430.0" cy="412.1" r="1.6" fill="#5a89a4"/>
<circle cx="441.2" cy="418.3" r="1.6" fill="#5a89a4"/>
<circle cx="464.1" cy="430.0" r="1.6" fill="#5a89a4"/>
<circle cx="479.9" cy="453.5" r="1.6" fill="#5a89a4"/>
<circle cx="503.7" cy="495.4" r="1.6" fill="#5a89a4"/>
<path d="M402.2 415.0L421.9 437.0L432.6 456.3" stroke="#354f80" stroke-width="0.9" fill="none" stroke-linejoin="round"/>
<circle cx="402.2" cy="415.0" r="1.6" fill="#354f80"/>
<circle cx="421.9" cy="437.0" r="1.6" fill="#354f80"/>
<circle cx="432.6" cy="456.3" r="1.6" fill="#354f80"/>
<path d="M410.5 414.5L418.0 431.4" stroke="#f3c9a0" stroke-width="2.5" fill="none" opacity="0.32" stroke-linecap="round" stroke-linejoin="round"/>
<path d="M410.5 414.5L418.0 431.4" stroke="#8a4a18" stroke-width="0.9" fill="none" stroke-linejoin="round"/>
<circle cx="410.5" cy="414.5" r="2.5" fill="#f3c9a0" opacity="0.42"/>
<circle cx="410.5" cy="414.5" r="1.6" fill="#8a4a18"/>
<circle cx="418.0" cy="431.4" r="2.5" fill="#f3c9a0" opacity="0.42"/>
<circle cx="418.0" cy="431.4" r="1.6" fill="#8a4a18"/>
<path d="M405.0 454.5L416.4 475.9" stroke="#404040" stroke-width="1.0" fill="none" stroke-linejoin="round"/>
<circle cx="405.0" cy="454.5" r="1.6" fill="#404040"/>
<circle cx="416.4" cy="475.9" r="1.6" fill="#404040"/>
<path d="M502.8 407.8L542.8 412.9L567.6 426.4" stroke="#21566a" stroke-width="1.0" fill="none" stroke-linejoin="round"/>
<rect x="501.1" y="406.1" width="3.4" height="3.4" fill="#21566a"/>
<rect x="541.1" y="411.2" width="3.4" height="3.4" fill="#21566a"/>
<rect x="565.9" y="424.7" width="3.4" height="3.4" fill="#21566a"/>
<text x="419.4" y="391.8" font-size="6.3" fill="#5b8fb4" text-anchor="start" textLength="31.0" lengthAdjust="spacingAndGlyphs" >EfficientDet</text>
<text x="476.2" y="424.0" font-size="6.6" fill="#e2a35f" text-anchor="start" textLength="17.0" lengthAdjust="spacingAndGlyphs" >ASFF*</text>
<text x="501.3" y="403.4" font-size="7.3" fill="#1d4f63" text-anchor="start" font-weight="bold" textLength="52.0" lengthAdjust="spacingAndGlyphs" >YOLOv4 (ours)</text>
<path d="M588.0 425.9H597.8" stroke="#21566a" stroke-width="0.8" opacity="0.7"/>
<rect x="591.4" y="424.4" width="3" height="3" fill="#21566a"/>
<text x="599.9" y="427.8" font-size="5.9" fill="#4d4d4d" text-anchor="start" font-weight="bold" textLength="37.5" lengthAdjust="spacingAndGlyphs" >YOLOv4 (ours)</text>
<path d="M588.0 435.3H597.8" stroke="#5a89a4" stroke-width="0.8" opacity="0.7"/>
<circle cx="592.9" cy="435.3" r="1.4" fill="#5a89a4"/>
<text x="599.9" y="437.2" font-size="5.9" fill="#4d4d4d" text-anchor="start" font-weight="bold" textLength="29.5" lengthAdjust="spacingAndGlyphs" >EfficientDet</text>
<path d="M588.0 444.8H597.8" stroke="#f6d9bd" stroke-width="2.4" opacity="0.45" stroke-linecap="round"/>
<circle cx="592.9" cy="444.8" r="2.2" fill="#f6d9bd" opacity="0.45"/>
<path d="M588.0 444.8H597.8" stroke="#e2955a" stroke-width="0.8" opacity="0.7"/>
<circle cx="592.9" cy="444.8" r="1.4" fill="#e2955a"/>
<text x="599.9" y="446.7" font-size="5.9" fill="#4d4d4d" text-anchor="start" font-weight="bold" textLength="16.0" lengthAdjust="spacingAndGlyphs" >ASFF*</text>
<path d="M588.0 454.3H597.8" stroke="#9fb6b8" stroke-width="0.8" opacity="0.7"/>
<circle cx="592.9" cy="454.3" r="1.4" fill="#9fb6b8"/>
<text x="599.9" y="456.2" font-size="5.9" fill="#4d4d4d" text-anchor="start" font-weight="bold" textLength="21.5" lengthAdjust="spacingAndGlyphs" >HarDNet</text>
<path d="M588.0 463.7H597.8" stroke="#354f80" stroke-width="0.8" opacity="0.7"/>
<circle cx="592.9" cy="463.7" r="1.4" fill="#354f80"/>
<text x="599.9" y="465.6" font-size="5.9" fill="#4d4d4d" text-anchor="start" font-weight="bold" textLength="21.0" lengthAdjust="spacingAndGlyphs" >SM-NAS</text>
<path d="M588.0 473.2H597.8" stroke="#f3c9a0" stroke-width="2.4" opacity="0.45" stroke-linecap="round"/>
<circle cx="592.9" cy="473.2" r="2.2" fill="#f3c9a0" opacity="0.45"/>
<path d="M588.0 473.2H597.8" stroke="#8a4a18" stroke-width="0.8" opacity="0.7"/>
<circle cx="592.9" cy="473.2" r="1.4" fill="#8a4a18"/>
<text x="599.9" y="475.1" font-size="5.9" fill="#4d4d4d" text-anchor="start" font-weight="bold" textLength="13.5" lengthAdjust="spacingAndGlyphs" >ATSS</text>
<path d="M588.0 482.6H597.8" stroke="#404040" stroke-width="0.8" opacity="0.7"/>
<circle cx="592.9" cy="482.6" r="1.4" fill="#404040"/>
<text x="599.9" y="484.5" font-size="5.9" fill="#4d4d4d" text-anchor="start" font-weight="bold" textLength="19.0" lengthAdjust="spacingAndGlyphs" >RDSNet</text>
</g>
<defs><filter id="soft2" x="0" y="530" width="720" height="52" filterUnits="userSpaceOnUse"><feGaussianBlur stdDeviation="0.28"/></filter></defs>
<g id="caption" font-family="Liberation Serif, serif" fill="#1e1e1e" stroke="#1e1e1e" stroke-width="0.22" font-size="13.6" transform="scale(1.025 1)" filter="url(#soft2)">
<text x="3.0" y="558.5">Figure</text>
<text x="43.2" y="558.5">8:</text>
<text x="57.9" y="558.5">Comparison</text>
<text x="130.6" y="558.5">of</text>
<text x="145.3" y="558.5">the</text>
<text x="165.4" y="558.5">speed</text>
<text x="200.3" y="558.5">and</text>
<text x="223.4" y="558.5">accuracy</text>
<text x="275.6" y="558.5">of</text>
<text x="291.1" y="558.5">different</text>
<text x="341.9" y="558.5">object</text>
<text x="378.9" y="558.5">detectors.</text>
<text x="437.1" y="558.5">(Some</text>
<text x="476.8" y="558.5">articles</text>
<text x="520.3" y="558.5">stated</text>
<text x="556.1" y="558.5">the</text>
<text x="576.8" y="558.5">FPS</text>
<text x="603.6" y="558.5">of</text>
<text x="619.0" y="558.5">their</text>
<text x="648.1" y="558.5">detectors</text>
<text x="3.0" y="576.0">for</text>
<text x="22.3" y="576.0">only</text>
<text x="50.0" y="576.0">one</text>
<text x="73.3" y="576.0">of</text>
<text x="88.5" y="576.0">the</text>
<text x="109.9" y="576.0">GPUs:</text>
<text x="152.1" y="576.0" textLength="125.6" lengthAdjust="spacingAndGlyphs">Maxwell/Pascal/Volta)</text>
</g>
<defs><filter id="soft3" x="520" y="530" width="200" height="52" filterUnits="userSpaceOnUse"><feGaussianBlur stdDeviation="0.3"/></filter></defs>
<g filter="url(#soft3)">
<g fill="#e2e4e7" opacity="0.9">
<text x="564.3" y="555.0" font-family="Liberation Sans, Noto Sans CJK SC, sans-serif" font-size="18">知</text>
<text x="587.0" y="555.0" font-family="Liberation Sans, Noto Sans CJK SC, sans-serif" font-size="18">乎</text>
<text x="610" y="554" font-family="Liberation Sans, sans-serif" font-size="17.5" textLength="91" lengthAdjust="spacingAndGlyphs">@YuFlow</text>
</g>
<g fill="#141414" stroke="#141414" stroke-width="1.0" stroke-linejoin="round" opacity="0.9" font-family="Liberation Sans, Noto Sans CJK SC, sans-serif">
<text x="550.30" y="562.48" font-size="19.3" textLength="15.2" lengthAdjust="spacingAndGlyphs">头</text>
<text x="568.12" y="562.48" font-size="19.3" textLength="15.2" lengthAdjust="spacingAndGlyphs">条</text>
<text x="608.18" y="563.28" font-size="16.6" textLength="19.7" lengthAdjust="spacingAndGlyphs">数</text>
<text x="628.83" y="563.30" font-size="16.6" textLength="17.8" lengthAdjust="spacingAndGlyphs">据</text>
<text x="646.78" y="563.24" font-size="16.6" textLength="17.6" lengthAdjust="spacingAndGlyphs">派</text>
</g>
<text x="589.1" y="563.6" font-family="Liberation Sans, sans-serif" font-size="19" fill="#141414" stroke="#141414" stroke-width="0.80" opacity="0.9" textLength="18.4" lengthAdjust="spacingAndGlyphs">@</text>
<text x="664.6" y="564.6" font-family="Liberation Sans, sans-serif" font-size="19.8" fill="#141414" stroke="#141414" stroke-width="0.80" opacity="0.9" textLength="39.8" lengthAdjust="spacingAndGlyphs">THU</text>
<g fill="#ffffff" stroke="#ffffff" stroke-width="0.85" stroke-linejoin="round" opacity="1" font-family="Liberation Sans, Noto Sans CJK SC, sans-serif">
<text x="549.00" y="561.18" font-size="19.3" textLength="15.2" lengthAdjust="spacingAndGlyphs">头</text>
<text x="566.82" y="561.18" font-size="19.3" textLength="15.2" lengthAdjust="spacingAndGlyphs">条</text>
<text x="606.88" y="561.98" font-size="16.6" textLength="19.7" lengthAdjust="spacingAndGlyphs">数</text>
<text x="627.53" y="562.00" font-size="16.6" textLength="17.8" lengthAdjust="spacingAndGlyphs">据</text>
<text x="645.48" y="561.94" font-size="16.6" textLength="17.6" lengthAdjust="spacingAndGlyphs">派</text>
</g>
<text x="587.8" y="562.3" font-family="Liberation Sans, sans-serif" font-size="19" fill="#ffffff" stroke="#ffffff" stroke-width="0.65" opacity="1" textLength="18.4" lengthAdjust="spacingAndGlyphs">@</text>
<text x="663.3" y="563.3" font-family="Liberation Sans, sans-serif" font-size="19.8" fill="#ffffff" stroke="#ffffff" stroke-width="0.65" opacity="1" textLength="39.8" lengthAdjust="spacingAndGlyphs">THU</text>
</g>
</svg>
</body></html>
